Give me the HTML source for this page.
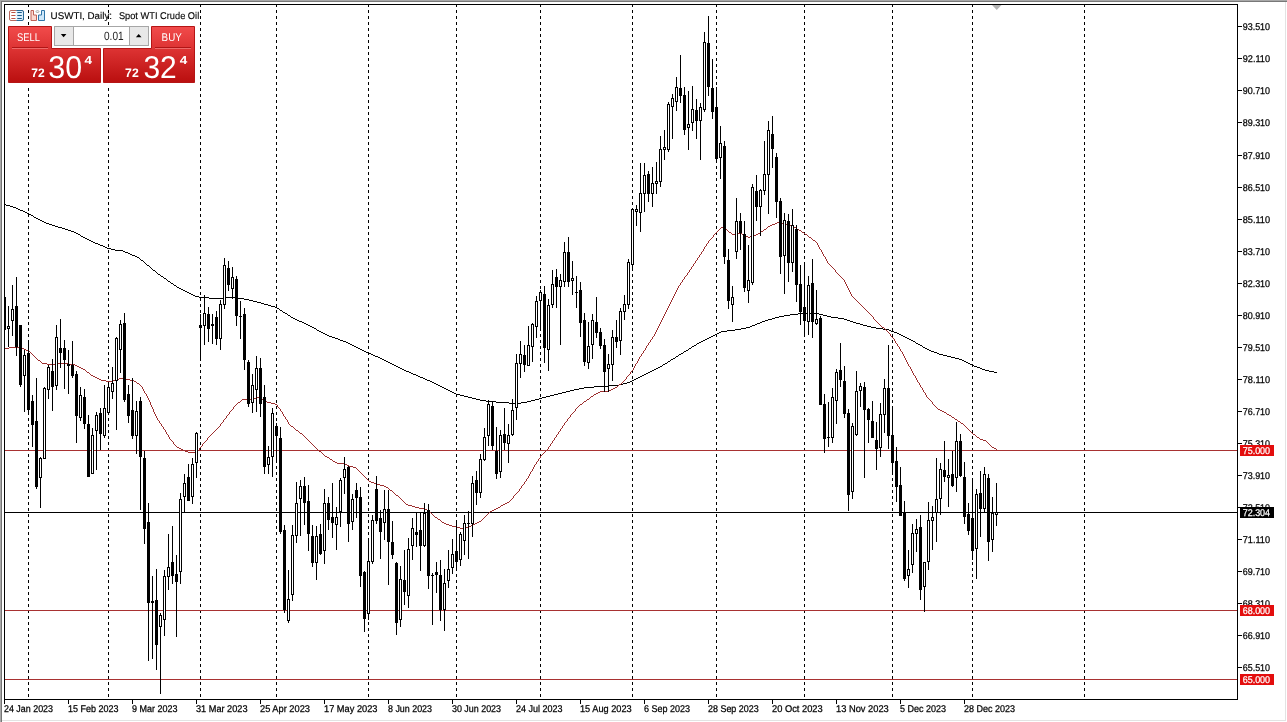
<!DOCTYPE html>
<html><head><meta charset="utf-8"><title>USWTI, Daily</title>
<style>
html,body{margin:0;padding:0;background:#fff;}
body{width:1287px;height:722px;overflow:hidden;}
svg{display:block;}
text{font-family:"Liberation Sans",sans-serif;text-rendering:geometricPrecision;}
.t text,text.t{stroke:#000;stroke-width:0.25px;}
text.tw{stroke:#fff;stroke-width:0.25px;}
text.t2{stroke:#000;stroke-width:0.12px;}
</style></head><body>
<svg width="1287" height="722" viewBox="0 0 1287 722">
<rect x="0" y="0" width="1287" height="722" fill="#ffffff"/>
<g shape-rendering="crispEdges">
<rect x="0" y="0" width="1287" height="1" fill="#a8a8a8"/>
<rect x="1" y="1" width="1287" height="1" fill="#787878"/>
<rect x="0" y="0" width="1" height="722" fill="#a8a8a8"/>
<rect x="1" y="1" width="1" height="722" fill="#747474"/>
<rect x="1285" y="2" width="1" height="719" fill="#e3e3e3"/>
<rect x="2" y="720" width="1284" height="1" fill="#e3e3e3"/>
</g>
<g shape-rendering="crispEdges" fill="#000">
<path d="M28 5h1v2h-1zM28 10h1v3h-1zM28 16h1v3h-1zM28 22h1v3h-1zM28 28h1v3h-1zM28 34h1v3h-1zM28 40h1v3h-1zM28 46h1v3h-1zM28 52h1v3h-1zM28 58h1v3h-1zM28 64h1v3h-1zM28 70h1v3h-1zM28 76h1v3h-1zM28 82h1v3h-1zM28 88h1v3h-1zM28 94h1v3h-1zM28 100h1v3h-1zM28 106h1v3h-1zM28 112h1v3h-1zM28 118h1v3h-1zM28 124h1v3h-1zM28 130h1v3h-1zM28 136h1v3h-1zM28 142h1v3h-1zM28 148h1v3h-1zM28 154h1v3h-1zM28 160h1v3h-1zM28 166h1v3h-1zM28 172h1v3h-1zM28 178h1v3h-1zM28 184h1v3h-1zM28 190h1v3h-1zM28 196h1v3h-1zM28 202h1v3h-1zM28 208h1v3h-1zM28 214h1v3h-1zM28 220h1v3h-1zM28 226h1v3h-1zM28 232h1v3h-1zM28 238h1v3h-1zM28 244h1v3h-1zM28 250h1v3h-1zM28 256h1v3h-1zM28 262h1v3h-1zM28 268h1v3h-1zM28 274h1v3h-1zM28 280h1v3h-1zM28 286h1v3h-1zM28 292h1v3h-1zM28 298h1v3h-1zM28 304h1v3h-1zM28 310h1v3h-1zM28 316h1v3h-1zM28 322h1v3h-1zM28 328h1v3h-1zM28 334h1v3h-1zM28 340h1v3h-1zM28 346h1v3h-1zM28 352h1v3h-1zM28 358h1v3h-1zM28 364h1v3h-1zM28 370h1v3h-1zM28 376h1v3h-1zM28 382h1v3h-1zM28 388h1v3h-1zM28 394h1v3h-1zM28 400h1v3h-1zM28 406h1v3h-1zM28 412h1v3h-1zM28 418h1v3h-1zM28 424h1v3h-1zM28 430h1v3h-1zM28 436h1v3h-1zM28 442h1v3h-1zM28 448h1v3h-1zM28 454h1v3h-1zM28 460h1v3h-1zM28 466h1v3h-1zM28 472h1v3h-1zM28 478h1v3h-1zM28 484h1v3h-1zM28 490h1v3h-1zM28 496h1v3h-1zM28 502h1v3h-1zM28 508h1v3h-1zM28 514h1v3h-1zM28 520h1v3h-1zM28 526h1v3h-1zM28 532h1v3h-1zM28 538h1v3h-1zM28 544h1v3h-1zM28 550h1v3h-1zM28 556h1v3h-1zM28 562h1v3h-1zM28 568h1v3h-1zM28 574h1v3h-1zM28 580h1v3h-1zM28 586h1v3h-1zM28 592h1v3h-1zM28 598h1v3h-1zM28 604h1v3h-1zM28 610h1v3h-1zM28 616h1v3h-1zM28 622h1v3h-1zM28 628h1v3h-1zM28 634h1v3h-1zM28 640h1v3h-1zM28 646h1v3h-1zM28 652h1v3h-1zM28 658h1v3h-1zM28 664h1v3h-1zM28 670h1v3h-1zM28 676h1v3h-1zM28 682h1v3h-1zM28 688h1v3h-1zM28 694h1v3h-1z"/>
<path d="M108 5h1v2h-1zM108 10h1v3h-1zM108 16h1v3h-1zM108 22h1v3h-1zM108 28h1v3h-1zM108 34h1v3h-1zM108 40h1v3h-1zM108 46h1v3h-1zM108 52h1v3h-1zM108 58h1v3h-1zM108 64h1v3h-1zM108 70h1v3h-1zM108 76h1v3h-1zM108 82h1v3h-1zM108 88h1v3h-1zM108 94h1v3h-1zM108 100h1v3h-1zM108 106h1v3h-1zM108 112h1v3h-1zM108 118h1v3h-1zM108 124h1v3h-1zM108 130h1v3h-1zM108 136h1v3h-1zM108 142h1v3h-1zM108 148h1v3h-1zM108 154h1v3h-1zM108 160h1v3h-1zM108 166h1v3h-1zM108 172h1v3h-1zM108 178h1v3h-1zM108 184h1v3h-1zM108 190h1v3h-1zM108 196h1v3h-1zM108 202h1v3h-1zM108 208h1v3h-1zM108 214h1v3h-1zM108 220h1v3h-1zM108 226h1v3h-1zM108 232h1v3h-1zM108 238h1v3h-1zM108 244h1v3h-1zM108 250h1v3h-1zM108 256h1v3h-1zM108 262h1v3h-1zM108 268h1v3h-1zM108 274h1v3h-1zM108 280h1v3h-1zM108 286h1v3h-1zM108 292h1v3h-1zM108 298h1v3h-1zM108 304h1v3h-1zM108 310h1v3h-1zM108 316h1v3h-1zM108 322h1v3h-1zM108 328h1v3h-1zM108 334h1v3h-1zM108 340h1v3h-1zM108 346h1v3h-1zM108 352h1v3h-1zM108 358h1v3h-1zM108 364h1v3h-1zM108 370h1v3h-1zM108 376h1v3h-1zM108 382h1v3h-1zM108 388h1v3h-1zM108 394h1v3h-1zM108 400h1v3h-1zM108 406h1v3h-1zM108 412h1v3h-1zM108 418h1v3h-1zM108 424h1v3h-1zM108 430h1v3h-1zM108 436h1v3h-1zM108 442h1v3h-1zM108 448h1v3h-1zM108 454h1v3h-1zM108 460h1v3h-1zM108 466h1v3h-1zM108 472h1v3h-1zM108 478h1v3h-1zM108 484h1v3h-1zM108 490h1v3h-1zM108 496h1v3h-1zM108 502h1v3h-1zM108 508h1v3h-1zM108 514h1v3h-1zM108 520h1v3h-1zM108 526h1v3h-1zM108 532h1v3h-1zM108 538h1v3h-1zM108 544h1v3h-1zM108 550h1v3h-1zM108 556h1v3h-1zM108 562h1v3h-1zM108 568h1v3h-1zM108 574h1v3h-1zM108 580h1v3h-1zM108 586h1v3h-1zM108 592h1v3h-1zM108 598h1v3h-1zM108 604h1v3h-1zM108 610h1v3h-1zM108 616h1v3h-1zM108 622h1v3h-1zM108 628h1v3h-1zM108 634h1v3h-1zM108 640h1v3h-1zM108 646h1v3h-1zM108 652h1v3h-1zM108 658h1v3h-1zM108 664h1v3h-1zM108 670h1v3h-1zM108 676h1v3h-1zM108 682h1v3h-1zM108 688h1v3h-1zM108 694h1v3h-1z"/>
<path d="M200 5h1v2h-1zM200 10h1v3h-1zM200 16h1v3h-1zM200 22h1v3h-1zM200 28h1v3h-1zM200 34h1v3h-1zM200 40h1v3h-1zM200 46h1v3h-1zM200 52h1v3h-1zM200 58h1v3h-1zM200 64h1v3h-1zM200 70h1v3h-1zM200 76h1v3h-1zM200 82h1v3h-1zM200 88h1v3h-1zM200 94h1v3h-1zM200 100h1v3h-1zM200 106h1v3h-1zM200 112h1v3h-1zM200 118h1v3h-1zM200 124h1v3h-1zM200 130h1v3h-1zM200 136h1v3h-1zM200 142h1v3h-1zM200 148h1v3h-1zM200 154h1v3h-1zM200 160h1v3h-1zM200 166h1v3h-1zM200 172h1v3h-1zM200 178h1v3h-1zM200 184h1v3h-1zM200 190h1v3h-1zM200 196h1v3h-1zM200 202h1v3h-1zM200 208h1v3h-1zM200 214h1v3h-1zM200 220h1v3h-1zM200 226h1v3h-1zM200 232h1v3h-1zM200 238h1v3h-1zM200 244h1v3h-1zM200 250h1v3h-1zM200 256h1v3h-1zM200 262h1v3h-1zM200 268h1v3h-1zM200 274h1v3h-1zM200 280h1v3h-1zM200 286h1v3h-1zM200 292h1v3h-1zM200 298h1v3h-1zM200 304h1v3h-1zM200 310h1v3h-1zM200 316h1v3h-1zM200 322h1v3h-1zM200 328h1v3h-1zM200 334h1v3h-1zM200 340h1v3h-1zM200 346h1v3h-1zM200 352h1v3h-1zM200 358h1v3h-1zM200 364h1v3h-1zM200 370h1v3h-1zM200 376h1v3h-1zM200 382h1v3h-1zM200 388h1v3h-1zM200 394h1v3h-1zM200 400h1v3h-1zM200 406h1v3h-1zM200 412h1v3h-1zM200 418h1v3h-1zM200 424h1v3h-1zM200 430h1v3h-1zM200 436h1v3h-1zM200 442h1v3h-1zM200 448h1v3h-1zM200 454h1v3h-1zM200 460h1v3h-1zM200 466h1v3h-1zM200 472h1v3h-1zM200 478h1v3h-1zM200 484h1v3h-1zM200 490h1v3h-1zM200 496h1v3h-1zM200 502h1v3h-1zM200 508h1v3h-1zM200 514h1v3h-1zM200 520h1v3h-1zM200 526h1v3h-1zM200 532h1v3h-1zM200 538h1v3h-1zM200 544h1v3h-1zM200 550h1v3h-1zM200 556h1v3h-1zM200 562h1v3h-1zM200 568h1v3h-1zM200 574h1v3h-1zM200 580h1v3h-1zM200 586h1v3h-1zM200 592h1v3h-1zM200 598h1v3h-1zM200 604h1v3h-1zM200 610h1v3h-1zM200 616h1v3h-1zM200 622h1v3h-1zM200 628h1v3h-1zM200 634h1v3h-1zM200 640h1v3h-1zM200 646h1v3h-1zM200 652h1v3h-1zM200 658h1v3h-1zM200 664h1v3h-1zM200 670h1v3h-1zM200 676h1v3h-1zM200 682h1v3h-1zM200 688h1v3h-1zM200 694h1v3h-1z"/>
<path d="M276 5h1v2h-1zM276 10h1v3h-1zM276 16h1v3h-1zM276 22h1v3h-1zM276 28h1v3h-1zM276 34h1v3h-1zM276 40h1v3h-1zM276 46h1v3h-1zM276 52h1v3h-1zM276 58h1v3h-1zM276 64h1v3h-1zM276 70h1v3h-1zM276 76h1v3h-1zM276 82h1v3h-1zM276 88h1v3h-1zM276 94h1v3h-1zM276 100h1v3h-1zM276 106h1v3h-1zM276 112h1v3h-1zM276 118h1v3h-1zM276 124h1v3h-1zM276 130h1v3h-1zM276 136h1v3h-1zM276 142h1v3h-1zM276 148h1v3h-1zM276 154h1v3h-1zM276 160h1v3h-1zM276 166h1v3h-1zM276 172h1v3h-1zM276 178h1v3h-1zM276 184h1v3h-1zM276 190h1v3h-1zM276 196h1v3h-1zM276 202h1v3h-1zM276 208h1v3h-1zM276 214h1v3h-1zM276 220h1v3h-1zM276 226h1v3h-1zM276 232h1v3h-1zM276 238h1v3h-1zM276 244h1v3h-1zM276 250h1v3h-1zM276 256h1v3h-1zM276 262h1v3h-1zM276 268h1v3h-1zM276 274h1v3h-1zM276 280h1v3h-1zM276 286h1v3h-1zM276 292h1v3h-1zM276 298h1v3h-1zM276 304h1v3h-1zM276 310h1v3h-1zM276 316h1v3h-1zM276 322h1v3h-1zM276 328h1v3h-1zM276 334h1v3h-1zM276 340h1v3h-1zM276 346h1v3h-1zM276 352h1v3h-1zM276 358h1v3h-1zM276 364h1v3h-1zM276 370h1v3h-1zM276 376h1v3h-1zM276 382h1v3h-1zM276 388h1v3h-1zM276 394h1v3h-1zM276 400h1v3h-1zM276 406h1v3h-1zM276 412h1v3h-1zM276 418h1v3h-1zM276 424h1v3h-1zM276 430h1v3h-1zM276 436h1v3h-1zM276 442h1v3h-1zM276 448h1v3h-1zM276 454h1v3h-1zM276 460h1v3h-1zM276 466h1v3h-1zM276 472h1v3h-1zM276 478h1v3h-1zM276 484h1v3h-1zM276 490h1v3h-1zM276 496h1v3h-1zM276 502h1v3h-1zM276 508h1v3h-1zM276 514h1v3h-1zM276 520h1v3h-1zM276 526h1v3h-1zM276 532h1v3h-1zM276 538h1v3h-1zM276 544h1v3h-1zM276 550h1v3h-1zM276 556h1v3h-1zM276 562h1v3h-1zM276 568h1v3h-1zM276 574h1v3h-1zM276 580h1v3h-1zM276 586h1v3h-1zM276 592h1v3h-1zM276 598h1v3h-1zM276 604h1v3h-1zM276 610h1v3h-1zM276 616h1v3h-1zM276 622h1v3h-1zM276 628h1v3h-1zM276 634h1v3h-1zM276 640h1v3h-1zM276 646h1v3h-1zM276 652h1v3h-1zM276 658h1v3h-1zM276 664h1v3h-1zM276 670h1v3h-1zM276 676h1v3h-1zM276 682h1v3h-1zM276 688h1v3h-1zM276 694h1v3h-1z"/>
<path d="M368 5h1v2h-1zM368 10h1v3h-1zM368 16h1v3h-1zM368 22h1v3h-1zM368 28h1v3h-1zM368 34h1v3h-1zM368 40h1v3h-1zM368 46h1v3h-1zM368 52h1v3h-1zM368 58h1v3h-1zM368 64h1v3h-1zM368 70h1v3h-1zM368 76h1v3h-1zM368 82h1v3h-1zM368 88h1v3h-1zM368 94h1v3h-1zM368 100h1v3h-1zM368 106h1v3h-1zM368 112h1v3h-1zM368 118h1v3h-1zM368 124h1v3h-1zM368 130h1v3h-1zM368 136h1v3h-1zM368 142h1v3h-1zM368 148h1v3h-1zM368 154h1v3h-1zM368 160h1v3h-1zM368 166h1v3h-1zM368 172h1v3h-1zM368 178h1v3h-1zM368 184h1v3h-1zM368 190h1v3h-1zM368 196h1v3h-1zM368 202h1v3h-1zM368 208h1v3h-1zM368 214h1v3h-1zM368 220h1v3h-1zM368 226h1v3h-1zM368 232h1v3h-1zM368 238h1v3h-1zM368 244h1v3h-1zM368 250h1v3h-1zM368 256h1v3h-1zM368 262h1v3h-1zM368 268h1v3h-1zM368 274h1v3h-1zM368 280h1v3h-1zM368 286h1v3h-1zM368 292h1v3h-1zM368 298h1v3h-1zM368 304h1v3h-1zM368 310h1v3h-1zM368 316h1v3h-1zM368 322h1v3h-1zM368 328h1v3h-1zM368 334h1v3h-1zM368 340h1v3h-1zM368 346h1v3h-1zM368 352h1v3h-1zM368 358h1v3h-1zM368 364h1v3h-1zM368 370h1v3h-1zM368 376h1v3h-1zM368 382h1v3h-1zM368 388h1v3h-1zM368 394h1v3h-1zM368 400h1v3h-1zM368 406h1v3h-1zM368 412h1v3h-1zM368 418h1v3h-1zM368 424h1v3h-1zM368 430h1v3h-1zM368 436h1v3h-1zM368 442h1v3h-1zM368 448h1v3h-1zM368 454h1v3h-1zM368 460h1v3h-1zM368 466h1v3h-1zM368 472h1v3h-1zM368 478h1v3h-1zM368 484h1v3h-1zM368 490h1v3h-1zM368 496h1v3h-1zM368 502h1v3h-1zM368 508h1v3h-1zM368 514h1v3h-1zM368 520h1v3h-1zM368 526h1v3h-1zM368 532h1v3h-1zM368 538h1v3h-1zM368 544h1v3h-1zM368 550h1v3h-1zM368 556h1v3h-1zM368 562h1v3h-1zM368 568h1v3h-1zM368 574h1v3h-1zM368 580h1v3h-1zM368 586h1v3h-1zM368 592h1v3h-1zM368 598h1v3h-1zM368 604h1v3h-1zM368 610h1v3h-1zM368 616h1v3h-1zM368 622h1v3h-1zM368 628h1v3h-1zM368 634h1v3h-1zM368 640h1v3h-1zM368 646h1v3h-1zM368 652h1v3h-1zM368 658h1v3h-1zM368 664h1v3h-1zM368 670h1v3h-1zM368 676h1v3h-1zM368 682h1v3h-1zM368 688h1v3h-1zM368 694h1v3h-1z"/>
<path d="M456 5h1v2h-1zM456 10h1v3h-1zM456 16h1v3h-1zM456 22h1v3h-1zM456 28h1v3h-1zM456 34h1v3h-1zM456 40h1v3h-1zM456 46h1v3h-1zM456 52h1v3h-1zM456 58h1v3h-1zM456 64h1v3h-1zM456 70h1v3h-1zM456 76h1v3h-1zM456 82h1v3h-1zM456 88h1v3h-1zM456 94h1v3h-1zM456 100h1v3h-1zM456 106h1v3h-1zM456 112h1v3h-1zM456 118h1v3h-1zM456 124h1v3h-1zM456 130h1v3h-1zM456 136h1v3h-1zM456 142h1v3h-1zM456 148h1v3h-1zM456 154h1v3h-1zM456 160h1v3h-1zM456 166h1v3h-1zM456 172h1v3h-1zM456 178h1v3h-1zM456 184h1v3h-1zM456 190h1v3h-1zM456 196h1v3h-1zM456 202h1v3h-1zM456 208h1v3h-1zM456 214h1v3h-1zM456 220h1v3h-1zM456 226h1v3h-1zM456 232h1v3h-1zM456 238h1v3h-1zM456 244h1v3h-1zM456 250h1v3h-1zM456 256h1v3h-1zM456 262h1v3h-1zM456 268h1v3h-1zM456 274h1v3h-1zM456 280h1v3h-1zM456 286h1v3h-1zM456 292h1v3h-1zM456 298h1v3h-1zM456 304h1v3h-1zM456 310h1v3h-1zM456 316h1v3h-1zM456 322h1v3h-1zM456 328h1v3h-1zM456 334h1v3h-1zM456 340h1v3h-1zM456 346h1v3h-1zM456 352h1v3h-1zM456 358h1v3h-1zM456 364h1v3h-1zM456 370h1v3h-1zM456 376h1v3h-1zM456 382h1v3h-1zM456 388h1v3h-1zM456 394h1v3h-1zM456 400h1v3h-1zM456 406h1v3h-1zM456 412h1v3h-1zM456 418h1v3h-1zM456 424h1v3h-1zM456 430h1v3h-1zM456 436h1v3h-1zM456 442h1v3h-1zM456 448h1v3h-1zM456 454h1v3h-1zM456 460h1v3h-1zM456 466h1v3h-1zM456 472h1v3h-1zM456 478h1v3h-1zM456 484h1v3h-1zM456 490h1v3h-1zM456 496h1v3h-1zM456 502h1v3h-1zM456 508h1v3h-1zM456 514h1v3h-1zM456 520h1v3h-1zM456 526h1v3h-1zM456 532h1v3h-1zM456 538h1v3h-1zM456 544h1v3h-1zM456 550h1v3h-1zM456 556h1v3h-1zM456 562h1v3h-1zM456 568h1v3h-1zM456 574h1v3h-1zM456 580h1v3h-1zM456 586h1v3h-1zM456 592h1v3h-1zM456 598h1v3h-1zM456 604h1v3h-1zM456 610h1v3h-1zM456 616h1v3h-1zM456 622h1v3h-1zM456 628h1v3h-1zM456 634h1v3h-1zM456 640h1v3h-1zM456 646h1v3h-1zM456 652h1v3h-1zM456 658h1v3h-1zM456 664h1v3h-1zM456 670h1v3h-1zM456 676h1v3h-1zM456 682h1v3h-1zM456 688h1v3h-1zM456 694h1v3h-1z"/>
<path d="M540 5h1v2h-1zM540 10h1v3h-1zM540 16h1v3h-1zM540 22h1v3h-1zM540 28h1v3h-1zM540 34h1v3h-1zM540 40h1v3h-1zM540 46h1v3h-1zM540 52h1v3h-1zM540 58h1v3h-1zM540 64h1v3h-1zM540 70h1v3h-1zM540 76h1v3h-1zM540 82h1v3h-1zM540 88h1v3h-1zM540 94h1v3h-1zM540 100h1v3h-1zM540 106h1v3h-1zM540 112h1v3h-1zM540 118h1v3h-1zM540 124h1v3h-1zM540 130h1v3h-1zM540 136h1v3h-1zM540 142h1v3h-1zM540 148h1v3h-1zM540 154h1v3h-1zM540 160h1v3h-1zM540 166h1v3h-1zM540 172h1v3h-1zM540 178h1v3h-1zM540 184h1v3h-1zM540 190h1v3h-1zM540 196h1v3h-1zM540 202h1v3h-1zM540 208h1v3h-1zM540 214h1v3h-1zM540 220h1v3h-1zM540 226h1v3h-1zM540 232h1v3h-1zM540 238h1v3h-1zM540 244h1v3h-1zM540 250h1v3h-1zM540 256h1v3h-1zM540 262h1v3h-1zM540 268h1v3h-1zM540 274h1v3h-1zM540 280h1v3h-1zM540 286h1v3h-1zM540 292h1v3h-1zM540 298h1v3h-1zM540 304h1v3h-1zM540 310h1v3h-1zM540 316h1v3h-1zM540 322h1v3h-1zM540 328h1v3h-1zM540 334h1v3h-1zM540 340h1v3h-1zM540 346h1v3h-1zM540 352h1v3h-1zM540 358h1v3h-1zM540 364h1v3h-1zM540 370h1v3h-1zM540 376h1v3h-1zM540 382h1v3h-1zM540 388h1v3h-1zM540 394h1v3h-1zM540 400h1v3h-1zM540 406h1v3h-1zM540 412h1v3h-1zM540 418h1v3h-1zM540 424h1v3h-1zM540 430h1v3h-1zM540 436h1v3h-1zM540 442h1v3h-1zM540 448h1v3h-1zM540 454h1v3h-1zM540 460h1v3h-1zM540 466h1v3h-1zM540 472h1v3h-1zM540 478h1v3h-1zM540 484h1v3h-1zM540 490h1v3h-1zM540 496h1v3h-1zM540 502h1v3h-1zM540 508h1v3h-1zM540 514h1v3h-1zM540 520h1v3h-1zM540 526h1v3h-1zM540 532h1v3h-1zM540 538h1v3h-1zM540 544h1v3h-1zM540 550h1v3h-1zM540 556h1v3h-1zM540 562h1v3h-1zM540 568h1v3h-1zM540 574h1v3h-1zM540 580h1v3h-1zM540 586h1v3h-1zM540 592h1v3h-1zM540 598h1v3h-1zM540 604h1v3h-1zM540 610h1v3h-1zM540 616h1v3h-1zM540 622h1v3h-1zM540 628h1v3h-1zM540 634h1v3h-1zM540 640h1v3h-1zM540 646h1v3h-1zM540 652h1v3h-1zM540 658h1v3h-1zM540 664h1v3h-1zM540 670h1v3h-1zM540 676h1v3h-1zM540 682h1v3h-1zM540 688h1v3h-1zM540 694h1v3h-1z"/>
<path d="M632 5h1v2h-1zM632 10h1v3h-1zM632 16h1v3h-1zM632 22h1v3h-1zM632 28h1v3h-1zM632 34h1v3h-1zM632 40h1v3h-1zM632 46h1v3h-1zM632 52h1v3h-1zM632 58h1v3h-1zM632 64h1v3h-1zM632 70h1v3h-1zM632 76h1v3h-1zM632 82h1v3h-1zM632 88h1v3h-1zM632 94h1v3h-1zM632 100h1v3h-1zM632 106h1v3h-1zM632 112h1v3h-1zM632 118h1v3h-1zM632 124h1v3h-1zM632 130h1v3h-1zM632 136h1v3h-1zM632 142h1v3h-1zM632 148h1v3h-1zM632 154h1v3h-1zM632 160h1v3h-1zM632 166h1v3h-1zM632 172h1v3h-1zM632 178h1v3h-1zM632 184h1v3h-1zM632 190h1v3h-1zM632 196h1v3h-1zM632 202h1v3h-1zM632 208h1v3h-1zM632 214h1v3h-1zM632 220h1v3h-1zM632 226h1v3h-1zM632 232h1v3h-1zM632 238h1v3h-1zM632 244h1v3h-1zM632 250h1v3h-1zM632 256h1v3h-1zM632 262h1v3h-1zM632 268h1v3h-1zM632 274h1v3h-1zM632 280h1v3h-1zM632 286h1v3h-1zM632 292h1v3h-1zM632 298h1v3h-1zM632 304h1v3h-1zM632 310h1v3h-1zM632 316h1v3h-1zM632 322h1v3h-1zM632 328h1v3h-1zM632 334h1v3h-1zM632 340h1v3h-1zM632 346h1v3h-1zM632 352h1v3h-1zM632 358h1v3h-1zM632 364h1v3h-1zM632 370h1v3h-1zM632 376h1v3h-1zM632 382h1v3h-1zM632 388h1v3h-1zM632 394h1v3h-1zM632 400h1v3h-1zM632 406h1v3h-1zM632 412h1v3h-1zM632 418h1v3h-1zM632 424h1v3h-1zM632 430h1v3h-1zM632 436h1v3h-1zM632 442h1v3h-1zM632 448h1v3h-1zM632 454h1v3h-1zM632 460h1v3h-1zM632 466h1v3h-1zM632 472h1v3h-1zM632 478h1v3h-1zM632 484h1v3h-1zM632 490h1v3h-1zM632 496h1v3h-1zM632 502h1v3h-1zM632 508h1v3h-1zM632 514h1v3h-1zM632 520h1v3h-1zM632 526h1v3h-1zM632 532h1v3h-1zM632 538h1v3h-1zM632 544h1v3h-1zM632 550h1v3h-1zM632 556h1v3h-1zM632 562h1v3h-1zM632 568h1v3h-1zM632 574h1v3h-1zM632 580h1v3h-1zM632 586h1v3h-1zM632 592h1v3h-1zM632 598h1v3h-1zM632 604h1v3h-1zM632 610h1v3h-1zM632 616h1v3h-1zM632 622h1v3h-1zM632 628h1v3h-1zM632 634h1v3h-1zM632 640h1v3h-1zM632 646h1v3h-1zM632 652h1v3h-1zM632 658h1v3h-1zM632 664h1v3h-1zM632 670h1v3h-1zM632 676h1v3h-1zM632 682h1v3h-1zM632 688h1v3h-1zM632 694h1v3h-1z"/>
<path d="M716 5h1v2h-1zM716 10h1v3h-1zM716 16h1v3h-1zM716 22h1v3h-1zM716 28h1v3h-1zM716 34h1v3h-1zM716 40h1v3h-1zM716 46h1v3h-1zM716 52h1v3h-1zM716 58h1v3h-1zM716 64h1v3h-1zM716 70h1v3h-1zM716 76h1v3h-1zM716 82h1v3h-1zM716 88h1v3h-1zM716 94h1v3h-1zM716 100h1v3h-1zM716 106h1v3h-1zM716 112h1v3h-1zM716 118h1v3h-1zM716 124h1v3h-1zM716 130h1v3h-1zM716 136h1v3h-1zM716 142h1v3h-1zM716 148h1v3h-1zM716 154h1v3h-1zM716 160h1v3h-1zM716 166h1v3h-1zM716 172h1v3h-1zM716 178h1v3h-1zM716 184h1v3h-1zM716 190h1v3h-1zM716 196h1v3h-1zM716 202h1v3h-1zM716 208h1v3h-1zM716 214h1v3h-1zM716 220h1v3h-1zM716 226h1v3h-1zM716 232h1v3h-1zM716 238h1v3h-1zM716 244h1v3h-1zM716 250h1v3h-1zM716 256h1v3h-1zM716 262h1v3h-1zM716 268h1v3h-1zM716 274h1v3h-1zM716 280h1v3h-1zM716 286h1v3h-1zM716 292h1v3h-1zM716 298h1v3h-1zM716 304h1v3h-1zM716 310h1v3h-1zM716 316h1v3h-1zM716 322h1v3h-1zM716 328h1v3h-1zM716 334h1v3h-1zM716 340h1v3h-1zM716 346h1v3h-1zM716 352h1v3h-1zM716 358h1v3h-1zM716 364h1v3h-1zM716 370h1v3h-1zM716 376h1v3h-1zM716 382h1v3h-1zM716 388h1v3h-1zM716 394h1v3h-1zM716 400h1v3h-1zM716 406h1v3h-1zM716 412h1v3h-1zM716 418h1v3h-1zM716 424h1v3h-1zM716 430h1v3h-1zM716 436h1v3h-1zM716 442h1v3h-1zM716 448h1v3h-1zM716 454h1v3h-1zM716 460h1v3h-1zM716 466h1v3h-1zM716 472h1v3h-1zM716 478h1v3h-1zM716 484h1v3h-1zM716 490h1v3h-1zM716 496h1v3h-1zM716 502h1v3h-1zM716 508h1v3h-1zM716 514h1v3h-1zM716 520h1v3h-1zM716 526h1v3h-1zM716 532h1v3h-1zM716 538h1v3h-1zM716 544h1v3h-1zM716 550h1v3h-1zM716 556h1v3h-1zM716 562h1v3h-1zM716 568h1v3h-1zM716 574h1v3h-1zM716 580h1v3h-1zM716 586h1v3h-1zM716 592h1v3h-1zM716 598h1v3h-1zM716 604h1v3h-1zM716 610h1v3h-1zM716 616h1v3h-1zM716 622h1v3h-1zM716 628h1v3h-1zM716 634h1v3h-1zM716 640h1v3h-1zM716 646h1v3h-1zM716 652h1v3h-1zM716 658h1v3h-1zM716 664h1v3h-1zM716 670h1v3h-1zM716 676h1v3h-1zM716 682h1v3h-1zM716 688h1v3h-1zM716 694h1v3h-1z"/>
<path d="M804 5h1v2h-1zM804 10h1v3h-1zM804 16h1v3h-1zM804 22h1v3h-1zM804 28h1v3h-1zM804 34h1v3h-1zM804 40h1v3h-1zM804 46h1v3h-1zM804 52h1v3h-1zM804 58h1v3h-1zM804 64h1v3h-1zM804 70h1v3h-1zM804 76h1v3h-1zM804 82h1v3h-1zM804 88h1v3h-1zM804 94h1v3h-1zM804 100h1v3h-1zM804 106h1v3h-1zM804 112h1v3h-1zM804 118h1v3h-1zM804 124h1v3h-1zM804 130h1v3h-1zM804 136h1v3h-1zM804 142h1v3h-1zM804 148h1v3h-1zM804 154h1v3h-1zM804 160h1v3h-1zM804 166h1v3h-1zM804 172h1v3h-1zM804 178h1v3h-1zM804 184h1v3h-1zM804 190h1v3h-1zM804 196h1v3h-1zM804 202h1v3h-1zM804 208h1v3h-1zM804 214h1v3h-1zM804 220h1v3h-1zM804 226h1v3h-1zM804 232h1v3h-1zM804 238h1v3h-1zM804 244h1v3h-1zM804 250h1v3h-1zM804 256h1v3h-1zM804 262h1v3h-1zM804 268h1v3h-1zM804 274h1v3h-1zM804 280h1v3h-1zM804 286h1v3h-1zM804 292h1v3h-1zM804 298h1v3h-1zM804 304h1v3h-1zM804 310h1v3h-1zM804 316h1v3h-1zM804 322h1v3h-1zM804 328h1v3h-1zM804 334h1v3h-1zM804 340h1v3h-1zM804 346h1v3h-1zM804 352h1v3h-1zM804 358h1v3h-1zM804 364h1v3h-1zM804 370h1v3h-1zM804 376h1v3h-1zM804 382h1v3h-1zM804 388h1v3h-1zM804 394h1v3h-1zM804 400h1v3h-1zM804 406h1v3h-1zM804 412h1v3h-1zM804 418h1v3h-1zM804 424h1v3h-1zM804 430h1v3h-1zM804 436h1v3h-1zM804 442h1v3h-1zM804 448h1v3h-1zM804 454h1v3h-1zM804 460h1v3h-1zM804 466h1v3h-1zM804 472h1v3h-1zM804 478h1v3h-1zM804 484h1v3h-1zM804 490h1v3h-1zM804 496h1v3h-1zM804 502h1v3h-1zM804 508h1v3h-1zM804 514h1v3h-1zM804 520h1v3h-1zM804 526h1v3h-1zM804 532h1v3h-1zM804 538h1v3h-1zM804 544h1v3h-1zM804 550h1v3h-1zM804 556h1v3h-1zM804 562h1v3h-1zM804 568h1v3h-1zM804 574h1v3h-1zM804 580h1v3h-1zM804 586h1v3h-1zM804 592h1v3h-1zM804 598h1v3h-1zM804 604h1v3h-1zM804 610h1v3h-1zM804 616h1v3h-1zM804 622h1v3h-1zM804 628h1v3h-1zM804 634h1v3h-1zM804 640h1v3h-1zM804 646h1v3h-1zM804 652h1v3h-1zM804 658h1v3h-1zM804 664h1v3h-1zM804 670h1v3h-1zM804 676h1v3h-1zM804 682h1v3h-1zM804 688h1v3h-1zM804 694h1v3h-1z"/>
<path d="M892 5h1v2h-1zM892 10h1v3h-1zM892 16h1v3h-1zM892 22h1v3h-1zM892 28h1v3h-1zM892 34h1v3h-1zM892 40h1v3h-1zM892 46h1v3h-1zM892 52h1v3h-1zM892 58h1v3h-1zM892 64h1v3h-1zM892 70h1v3h-1zM892 76h1v3h-1zM892 82h1v3h-1zM892 88h1v3h-1zM892 94h1v3h-1zM892 100h1v3h-1zM892 106h1v3h-1zM892 112h1v3h-1zM892 118h1v3h-1zM892 124h1v3h-1zM892 130h1v3h-1zM892 136h1v3h-1zM892 142h1v3h-1zM892 148h1v3h-1zM892 154h1v3h-1zM892 160h1v3h-1zM892 166h1v3h-1zM892 172h1v3h-1zM892 178h1v3h-1zM892 184h1v3h-1zM892 190h1v3h-1zM892 196h1v3h-1zM892 202h1v3h-1zM892 208h1v3h-1zM892 214h1v3h-1zM892 220h1v3h-1zM892 226h1v3h-1zM892 232h1v3h-1zM892 238h1v3h-1zM892 244h1v3h-1zM892 250h1v3h-1zM892 256h1v3h-1zM892 262h1v3h-1zM892 268h1v3h-1zM892 274h1v3h-1zM892 280h1v3h-1zM892 286h1v3h-1zM892 292h1v3h-1zM892 298h1v3h-1zM892 304h1v3h-1zM892 310h1v3h-1zM892 316h1v3h-1zM892 322h1v3h-1zM892 328h1v3h-1zM892 334h1v3h-1zM892 340h1v3h-1zM892 346h1v3h-1zM892 352h1v3h-1zM892 358h1v3h-1zM892 364h1v3h-1zM892 370h1v3h-1zM892 376h1v3h-1zM892 382h1v3h-1zM892 388h1v3h-1zM892 394h1v3h-1zM892 400h1v3h-1zM892 406h1v3h-1zM892 412h1v3h-1zM892 418h1v3h-1zM892 424h1v3h-1zM892 430h1v3h-1zM892 436h1v3h-1zM892 442h1v3h-1zM892 448h1v3h-1zM892 454h1v3h-1zM892 460h1v3h-1zM892 466h1v3h-1zM892 472h1v3h-1zM892 478h1v3h-1zM892 484h1v3h-1zM892 490h1v3h-1zM892 496h1v3h-1zM892 502h1v3h-1zM892 508h1v3h-1zM892 514h1v3h-1zM892 520h1v3h-1zM892 526h1v3h-1zM892 532h1v3h-1zM892 538h1v3h-1zM892 544h1v3h-1zM892 550h1v3h-1zM892 556h1v3h-1zM892 562h1v3h-1zM892 568h1v3h-1zM892 574h1v3h-1zM892 580h1v3h-1zM892 586h1v3h-1zM892 592h1v3h-1zM892 598h1v3h-1zM892 604h1v3h-1zM892 610h1v3h-1zM892 616h1v3h-1zM892 622h1v3h-1zM892 628h1v3h-1zM892 634h1v3h-1zM892 640h1v3h-1zM892 646h1v3h-1zM892 652h1v3h-1zM892 658h1v3h-1zM892 664h1v3h-1zM892 670h1v3h-1zM892 676h1v3h-1zM892 682h1v3h-1zM892 688h1v3h-1zM892 694h1v3h-1z"/>
<path d="M972 5h1v2h-1zM972 10h1v3h-1zM972 16h1v3h-1zM972 22h1v3h-1zM972 28h1v3h-1zM972 34h1v3h-1zM972 40h1v3h-1zM972 46h1v3h-1zM972 52h1v3h-1zM972 58h1v3h-1zM972 64h1v3h-1zM972 70h1v3h-1zM972 76h1v3h-1zM972 82h1v3h-1zM972 88h1v3h-1zM972 94h1v3h-1zM972 100h1v3h-1zM972 106h1v3h-1zM972 112h1v3h-1zM972 118h1v3h-1zM972 124h1v3h-1zM972 130h1v3h-1zM972 136h1v3h-1zM972 142h1v3h-1zM972 148h1v3h-1zM972 154h1v3h-1zM972 160h1v3h-1zM972 166h1v3h-1zM972 172h1v3h-1zM972 178h1v3h-1zM972 184h1v3h-1zM972 190h1v3h-1zM972 196h1v3h-1zM972 202h1v3h-1zM972 208h1v3h-1zM972 214h1v3h-1zM972 220h1v3h-1zM972 226h1v3h-1zM972 232h1v3h-1zM972 238h1v3h-1zM972 244h1v3h-1zM972 250h1v3h-1zM972 256h1v3h-1zM972 262h1v3h-1zM972 268h1v3h-1zM972 274h1v3h-1zM972 280h1v3h-1zM972 286h1v3h-1zM972 292h1v3h-1zM972 298h1v3h-1zM972 304h1v3h-1zM972 310h1v3h-1zM972 316h1v3h-1zM972 322h1v3h-1zM972 328h1v3h-1zM972 334h1v3h-1zM972 340h1v3h-1zM972 346h1v3h-1zM972 352h1v3h-1zM972 358h1v3h-1zM972 364h1v3h-1zM972 370h1v3h-1zM972 376h1v3h-1zM972 382h1v3h-1zM972 388h1v3h-1zM972 394h1v3h-1zM972 400h1v3h-1zM972 406h1v3h-1zM972 412h1v3h-1zM972 418h1v3h-1zM972 424h1v3h-1zM972 430h1v3h-1zM972 436h1v3h-1zM972 442h1v3h-1zM972 448h1v3h-1zM972 454h1v3h-1zM972 460h1v3h-1zM972 466h1v3h-1zM972 472h1v3h-1zM972 478h1v3h-1zM972 484h1v3h-1zM972 490h1v3h-1zM972 496h1v3h-1zM972 502h1v3h-1zM972 508h1v3h-1zM972 514h1v3h-1zM972 520h1v3h-1zM972 526h1v3h-1zM972 532h1v3h-1zM972 538h1v3h-1zM972 544h1v3h-1zM972 550h1v3h-1zM972 556h1v3h-1zM972 562h1v3h-1zM972 568h1v3h-1zM972 574h1v3h-1zM972 580h1v3h-1zM972 586h1v3h-1zM972 592h1v3h-1zM972 598h1v3h-1zM972 604h1v3h-1zM972 610h1v3h-1zM972 616h1v3h-1zM972 622h1v3h-1zM972 628h1v3h-1zM972 634h1v3h-1zM972 640h1v3h-1zM972 646h1v3h-1zM972 652h1v3h-1zM972 658h1v3h-1zM972 664h1v3h-1zM972 670h1v3h-1zM972 676h1v3h-1zM972 682h1v3h-1zM972 688h1v3h-1zM972 694h1v3h-1z"/>
<path d="M1084 5h1v2h-1zM1084 10h1v3h-1zM1084 16h1v3h-1zM1084 22h1v3h-1zM1084 28h1v3h-1zM1084 34h1v3h-1zM1084 40h1v3h-1zM1084 46h1v3h-1zM1084 52h1v3h-1zM1084 58h1v3h-1zM1084 64h1v3h-1zM1084 70h1v3h-1zM1084 76h1v3h-1zM1084 82h1v3h-1zM1084 88h1v3h-1zM1084 94h1v3h-1zM1084 100h1v3h-1zM1084 106h1v3h-1zM1084 112h1v3h-1zM1084 118h1v3h-1zM1084 124h1v3h-1zM1084 130h1v3h-1zM1084 136h1v3h-1zM1084 142h1v3h-1zM1084 148h1v3h-1zM1084 154h1v3h-1zM1084 160h1v3h-1zM1084 166h1v3h-1zM1084 172h1v3h-1zM1084 178h1v3h-1zM1084 184h1v3h-1zM1084 190h1v3h-1zM1084 196h1v3h-1zM1084 202h1v3h-1zM1084 208h1v3h-1zM1084 214h1v3h-1zM1084 220h1v3h-1zM1084 226h1v3h-1zM1084 232h1v3h-1zM1084 238h1v3h-1zM1084 244h1v3h-1zM1084 250h1v3h-1zM1084 256h1v3h-1zM1084 262h1v3h-1zM1084 268h1v3h-1zM1084 274h1v3h-1zM1084 280h1v3h-1zM1084 286h1v3h-1zM1084 292h1v3h-1zM1084 298h1v3h-1zM1084 304h1v3h-1zM1084 310h1v3h-1zM1084 316h1v3h-1zM1084 322h1v3h-1zM1084 328h1v3h-1zM1084 334h1v3h-1zM1084 340h1v3h-1zM1084 346h1v3h-1zM1084 352h1v3h-1zM1084 358h1v3h-1zM1084 364h1v3h-1zM1084 370h1v3h-1zM1084 376h1v3h-1zM1084 382h1v3h-1zM1084 388h1v3h-1zM1084 394h1v3h-1zM1084 400h1v3h-1zM1084 406h1v3h-1zM1084 412h1v3h-1zM1084 418h1v3h-1zM1084 424h1v3h-1zM1084 430h1v3h-1zM1084 436h1v3h-1zM1084 442h1v3h-1zM1084 448h1v3h-1zM1084 454h1v3h-1zM1084 460h1v3h-1zM1084 466h1v3h-1zM1084 472h1v3h-1zM1084 478h1v3h-1zM1084 484h1v3h-1zM1084 490h1v3h-1zM1084 496h1v3h-1zM1084 502h1v3h-1zM1084 508h1v3h-1zM1084 514h1v3h-1zM1084 520h1v3h-1zM1084 526h1v3h-1zM1084 532h1v3h-1zM1084 538h1v3h-1zM1084 544h1v3h-1zM1084 550h1v3h-1zM1084 556h1v3h-1zM1084 562h1v3h-1zM1084 568h1v3h-1zM1084 574h1v3h-1zM1084 580h1v3h-1zM1084 586h1v3h-1zM1084 592h1v3h-1zM1084 598h1v3h-1zM1084 604h1v3h-1zM1084 610h1v3h-1zM1084 616h1v3h-1zM1084 622h1v3h-1zM1084 628h1v3h-1zM1084 634h1v3h-1zM1084 640h1v3h-1zM1084 646h1v3h-1zM1084 652h1v3h-1zM1084 658h1v3h-1zM1084 664h1v3h-1zM1084 670h1v3h-1zM1084 676h1v3h-1zM1084 682h1v3h-1zM1084 688h1v3h-1zM1084 694h1v3h-1z"/>
</g>
<g shape-rendering="crispEdges">
<rect x="5" y="450" width="1232" height="1" fill="#a83232"/>
<rect x="5" y="610" width="1232" height="1" fill="#a83232"/>
<rect x="5" y="679" width="1232" height="1" fill="#a83232"/>
<rect x="5" y="512" width="1232" height="1" fill="#000"/>
</g>
<path fill="#000" shape-rendering="crispEdges" d="M68 230h3v1h-3zM735 329h6v1h-6zM883 329h6v1h-6zM100 245h3v1h-3zM440 386h2v1h-2zM594 386h15v1h-15zM91 241h2v1h-2zM244 299h5v1h-5zM285 313h2v1h-2zM798 313h21v1h-21zM446 389h2v1h-2zM574 389h5v1h-5zM416 375h2v1h-2zM642 375h2v1h-2zM310 326h2v1h-2zM750 326h2v1h-2zM867 326h4v1h-4zM464 396h4v1h-4zM546 396h4v1h-4zM306 324h2v1h-2zM755 324h2v1h-2zM860 324h3v1h-3zM291 317h2v1h-2zM775 317h4v1h-4zM831 317h7v1h-7zM115 250h8v1h-8zM103 246h2v1h-2zM496 402h13v1h-13zM521 402h6v1h-6zM335 338h3v1h-3zM707 338h2v1h-2zM907 338h2v1h-2zM249 300h4v1h-4zM137 257h2v1h-2zM486 401h10v1h-10zM527 401h4v1h-4zM509 403h12v1h-12zM95 243h3v1h-3zM406 371h3v1h-3zM650 371h2v1h-2zM989 371h5v1h-5zM87 239h2v1h-2zM411 373h2v1h-2zM646 373h2v1h-2zM4 204h2v1h-2zM295 319h2v1h-2zM768 319h4v1h-4zM844 319h3v1h-3zM452 392h2v1h-2zM562 392h4v1h-4zM378 357h2v1h-2zM951 357h4v1h-4zM438 385h2v1h-2zM609 385h10v1h-10zM368 353h3v1h-3zM681 353h2v1h-2zM937 353h2v1h-2zM6 205h4v1h-4zM199 297h10v1h-10zM224 297h12v1h-12zM297 320h2v1h-2zM765 320h3v1h-3zM847 320h3v1h-3zM308 325h2v1h-2zM752 325h3v1h-3zM863 325h4v1h-4zM132 255h3v1h-3zM404 370h2v1h-2zM652 370h2v1h-2zM985 370h4v1h-4zM71 231h3v1h-3zM460 395h4v1h-4zM550 395h4v1h-4zM83 237h2v1h-2zM280 310h2v1h-2zM448 390h2v1h-2zM570 390h4v1h-4zM790 314h8v1h-8zM819 314h4v1h-4zM271 306h4v1h-4zM442 387h2v1h-2zM584 387h10v1h-10zM147 265h2v1h-2zM434 383h2v1h-2zM623 383h4v1h-4zM390 363h2v1h-2zM665 363h2v1h-2zM968 363h2v1h-2zM253 301h4v1h-4zM128 253h2v1h-2zM275 307h2v1h-2zM76 233h2v1h-2zM420 377h3v1h-3zM638 377h2v1h-2zM314 328h2v1h-2zM741 328h5v1h-5zM876 328h7v1h-7zM42 221h2v1h-2zM293 318h2v1h-2zM772 318h3v1h-3zM838 318h6v1h-6zM107 248h4v1h-4zM340 340h3v1h-3zM703 340h2v1h-2zM911 340h2v1h-2zM480 400h6v1h-6zM531 400h4v1h-4zM454 393h2v1h-2zM558 393h4v1h-4zM472 398h4v1h-4zM539 398h3v1h-3zM425 379h2v1h-2zM634 379h2v1h-2zM317 330h2v1h-2zM727 330h8v1h-8zM889 330h2v1h-2zM288 315h2v1h-2zM784 315h6v1h-6zM823 315h4v1h-4zM360 349h2v1h-2zM927 349h2v1h-2zM209 298h15v1h-15zM236 298h8v1h-8zM34 217h2v1h-2zM364 351h2v1h-2zM684 351h2v1h-2zM931 351h3v1h-3zM46 223h3v1h-3zM356 347h2v1h-2zM923 347h2v1h-2zM38 219h2v1h-2zM319 331h2v1h-2zM721 331h6v1h-6zM891 331h3v1h-3zM312 327h2v1h-2zM746 327h4v1h-4zM871 327h5v1h-5zM111 249h4v1h-4zM409 372h2v1h-2zM648 372h2v1h-2zM994 372h3v1h-3zM304 323h2v1h-2zM757 323h3v1h-3zM856 323h4v1h-4zM29 214h2v1h-2zM468 397h4v1h-4zM542 397h4v1h-4zM348 343h2v1h-2zM697 343h2v1h-2zM916 343h2v1h-2zM31 215h2v1h-2zM402 369h2v1h-2zM654 369h2v1h-2zM982 369h3v1h-3zM23 211h2v1h-2zM329 336h3v1h-3zM711 336h2v1h-2zM903 336h2v1h-2zM185 291h2v1h-2zM158 274h2v1h-2zM321 332h2v1h-2zM719 332h2v1h-2zM894 332h3v1h-3zM177 287h2v1h-2zM55 226h3v1h-3zM16 208h2v1h-2zM323 333h2v1h-2zM717 333h2v1h-2zM897 333h2v1h-2zM394 365h2v1h-2zM972 365h2v1h-2zM346 342h2v1h-2zM699 342h2v1h-2zM779 316h5v1h-5zM827 316h4v1h-4zM352 345h2v1h-2zM694 345h2v1h-2zM920 345h2v1h-2zM27 213h2v1h-2zM398 367h2v1h-2zM658 367h2v1h-2zM977 367h3v1h-3zM18 209h2v1h-2zM49 224h3v1h-3zM366 352h2v1h-2zM934 352h3v1h-3zM161 276h2v1h-2zM430 381h2v1h-2zM630 381h2v1h-2zM181 289h2v1h-2zM350 344h2v1h-2zM918 344h2v1h-2zM20 210h3v1h-3zM10 206h3v1h-3zM327 335h2v1h-2zM713 335h2v1h-2zM901 335h2v1h-2zM52 225h3v1h-3zM400 368h2v1h-2zM656 368h2v1h-2zM980 368h2v1h-2zM380 358h2v1h-2zM673 358h2v1h-2zM955 358h4v1h-4zM371 354h2v1h-2zM679 354h2v1h-2zM939 354h4v1h-4zM413 374h3v1h-3zM644 374h2v1h-2zM13 207h3v1h-3zM476 399h4v1h-4zM535 399h4v1h-4zM338 339h2v1h-2zM705 339h2v1h-2zM909 339h2v1h-2zM191 294h2v1h-2zM183 290h2v1h-2zM418 376h2v1h-2zM640 376h2v1h-2zM299 321h3v1h-3zM762 321h3v1h-3zM850 321h3v1h-3zM396 366h2v1h-2zM660 366h2v1h-2zM974 366h3v1h-3zM382 359h2v1h-2zM671 359h2v1h-2zM959 359h3v1h-3zM332 337h3v1h-3zM709 337h2v1h-2zM905 337h2v1h-2zM187 292h2v1h-2zM179 288h2v1h-2zM436 384h2v1h-2zM619 384h4v1h-4zM427 380h3v1h-3zM632 380h2v1h-2zM153 270h2v1h-2zM171 283h2v1h-2zM386 361h2v1h-2zM668 361h2v1h-2zM964 361h2v1h-2zM373 355h2v1h-2zM943 355h4v1h-4zM58 227h4v1h-4zM257 302h4v1h-4zM444 388h2v1h-2zM579 388h5v1h-5zM432 382h2v1h-2zM627 382h3v1h-3zM423 378h2v1h-2zM636 378h2v1h-2zM168 281h2v1h-2zM343 341h3v1h-3zM701 341h2v1h-2zM913 341h2v1h-2zM325 334h2v1h-2zM715 334h2v1h-2zM899 334h2v1h-2zM456 394h4v1h-4zM554 394h4v1h-4zM62 228h3v1h-3zM123 251h2v1h-2zM450 391h2v1h-2zM566 391h4v1h-4zM302 322h2v1h-2zM760 322h2v1h-2zM853 322h3v1h-3zM392 364h2v1h-2zM663 364h2v1h-2zM970 364h2v1h-2zM375 356h3v1h-3zM676 356h2v1h-2zM947 356h4v1h-4zM261 303h3v1h-3zM141 260h2v1h-2zM358 348h2v1h-2zM689 348h2v1h-2zM925 348h2v1h-2zM89 240h2v1h-2zM81 236h2v1h-2zM264 304h4v1h-4zM362 350h2v1h-2zM686 350h2v1h-2zM929 350h2v1h-2zM135 256h2v1h-2zM125 252h3v1h-3zM130 254h2v1h-2zM283 312h2v1h-2zM85 238h2v1h-2zM78 234h2v1h-2zM277 308h2v1h-2zM44 222h2v1h-2zM164 278h2v1h-2zM74 232h2v1h-2zM268 305h3v1h-3zM65 229h3v1h-3zM384 360h2v1h-2zM962 360h2v1h-2zM40 220h2v1h-2zM189 293h2v1h-2zM36 218h2v1h-2zM388 362h2v1h-2zM966 362h2v1h-2zM193 295h2v1h-2zM195 296h4v1h-4zM354 346h2v1h-2zM692 346h2v1h-2zM174 285h2v1h-2zM93 242h2v1h-2zM98 244h2v1h-2zM105 247h2v1h-2zM25 212h2v1h-2zM279 309h1v1h-1zM166 279h1v1h-1zM167 280h1v1h-1zM696 344h1v1h-1zM316 329h1v1h-1zM688 349h1v1h-1zM915 342h1v1h-1zM176 286h1v1h-1zM143 261h1v1h-1zM678 355h1v1h-1zM670 360h1v1h-1zM149 266h1v1h-1zM160 275h1v1h-1zM163 277h1v1h-1zM662 365h1v1h-1zM144 262h1v1h-1zM173 284h1v1h-1zM290 316h1v1h-1zM139 258h1v1h-1zM140 259h1v1h-1zM151 268h1v1h-1zM155 271h1v1h-1zM282 311h1v1h-1zM691 347h1v1h-1zM150 267h1v1h-1zM146 264h1v1h-1zM683 352h1v1h-1zM33 216h1v1h-1zM675 357h1v1h-1zM667 362h1v1h-1zM922 346h1v1h-1zM145 263h1v1h-1zM156 272h1v1h-1zM157 273h1v1h-1zM170 282h1v1h-1zM80 235h1v1h-1zM287 314h1v1h-1zM152 269h1v1h-1z"/>
<path fill="#9c2e2e" shape-rendering="crispEdges" d="M137 383h2v1h-2zM95 377h2v1h-2zM729 232h2v1h-2zM802 232h2v1h-2zM942 411h2v1h-2zM101 380h5v1h-5zM113 380h4v1h-4zM130 380h4v1h-4zM188 452h9v1h-9zM185 451h3v1h-3zM319 451h2v1h-2zM944 412h2v1h-2zM5 348h4v1h-4zM22 348h2v1h-2zM973 434h2v1h-2zM369 481h2v1h-2zM952 417h2v1h-2zM737 233h5v1h-5zM758 233h2v1h-2zM242 399h11v1h-11zM261 399h2v1h-2zM587 399h2v1h-2zM291 426h2v1h-2zM337 463h8v1h-8zM938 409h2v1h-2zM949 415h2v1h-2zM9 347h13v1h-13zM772 224h3v1h-3zM785 224h3v1h-3zM947 414h2v1h-2zM42 363h5v1h-5zM57 363h11v1h-11zM725 229h2v1h-2zM764 229h2v1h-2zM797 229h2v1h-2zM106 381h7v1h-7zM134 381h2v1h-2zM940 410h2v1h-2zM456 527h4v1h-4zM464 527h4v1h-4zM99 379h2v1h-2zM117 379h2v1h-2zM124 379h6v1h-6zM265 401h2v1h-2zM584 401h2v1h-2zM415 507h4v1h-4zM498 507h2v1h-2zM275 404h2v1h-2zM580 404h2v1h-2zM600 391h9v1h-9zM396 495h2v1h-2zM591 396h2v1h-2zM47 364h10v1h-10zM68 364h7v1h-7zM777 222h4v1h-4zM748 237h2v1h-2zM809 237h2v1h-2zM263 400h2v1h-2zM799 230h2v1h-2zM596 393h2v1h-2zM28 351h2v1h-2zM238 402h2v1h-2zM267 402h4v1h-4zM408 505h4v1h-4zM501 505h2v1h-2zM87 372h2v1h-2zM721 227h2v1h-2zM794 227h2v1h-2zM376 484h4v1h-4zM732 234h5v1h-5zM742 234h2v1h-2zM756 234h2v1h-2zM805 234h2v1h-2zM442 522h2v1h-2zM477 522h2v1h-2zM353 467h3v1h-3zM723 228h2v1h-2zM325 456h2v1h-2zM882 327h2v1h-2zM977 437h2v1h-2zM93 376h2v1h-2zM768 226h2v1h-2zM792 226h2v1h-2zM460 528h4v1h-4zM327 457h2v1h-2zM296 430h2v1h-2zM412 506h3v1h-3zM983 440h3v1h-3zM961 423h2v1h-2zM609 390h2v1h-2zM775 223h2v1h-2zM781 223h4v1h-4zM177 447h2v1h-2zM992 447h2v1h-2zM371 482h3v1h-3zM958 421h2v1h-2zM505 503h2v1h-2zM24 349h2v1h-2zM390 490h2v1h-2zM419 508h5v1h-5zM496 508h2v1h-2zM438 519h2v1h-2zM446 524h3v1h-3zM473 524h2v1h-2zM746 236h2v1h-2zM750 236h4v1h-4zM490 511h2v1h-2zM97 378h2v1h-2zM119 378h5v1h-5zM81 368h2v1h-2zM429 512h2v1h-2zM349 466h4v1h-4zM761 231h2v1h-2zM83 369h2v1h-2zM380 485h4v1h-4zM75 365h2v1h-2zM271 403h4v1h-4zM424 509h3v1h-3zM494 509h2v1h-2zM253 398h4v1h-4zM259 398h2v1h-2zM345 464h2v1h-2zM955 419h2v1h-2zM79 367h2v1h-2zM744 235h2v1h-2zM754 235h2v1h-2zM492 510h2v1h-2zM335 462h2v1h-2zM452 526h4v1h-4zM468 526h3v1h-3zM594 394h2v1h-2zM770 225h2v1h-2zM788 225h4v1h-4zM479 521h2v1h-2zM598 392h2v1h-2zM181 449h2v1h-2zM26 350h2v1h-2zM386 487h2v1h-2zM449 525h3v1h-3zM471 525h2v1h-2zM374 483h2v1h-2zM435 517h2v1h-2zM179 448h2v1h-2zM994 448h2v1h-2zM619 384h2v1h-2zM183 450h2v1h-2zM300 433h2v1h-2zM444 523h2v1h-2zM475 523h2v1h-2zM980 439h3v1h-3zM507 502h2v1h-2zM813 240h2v1h-2zM333 461h2v1h-2zM613 388h2v1h-2zM91 375h2v1h-2zM330 459h2v1h-2zM615 387h2v1h-2zM257 397h2v1h-2zM611 389h2v1h-2zM77 366h2v1h-2zM347 465h2v1h-2zM384 486h2v1h-2zM406 504h2v1h-2zM503 504h2v1h-2zM38 360h2v1h-2zM872 316h1v1h-1zM487 514h1v1h-1zM854 298h1v1h-1zM332 460h1v1h-1zM363 475h1v1h-1zM574 411h1v1h-1zM664 314h1v2h-1zM577 407h1v1h-1zM295 429h1v1h-1zM640 356h1v1h-1zM533 467h1v2h-1zM975 435h1v1h-1zM905 358h1v2h-1zM986 441h1v1h-1zM825 257h1v2h-1zM545 451h1v1h-1zM691 267h1v2h-1zM655 332h1v2h-1zM828 263h1v1h-1zM937 408h1v1h-1zM437 518h1v1h-1zM700 254h1v1h-1zM557 434h1v1h-1zM703 249h1v2h-1zM898 346h1v1h-1zM818 245h1v2h-1zM569 417h1v1h-1zM715 233h1v1h-1zM946 413h1v1h-1zM760 232h1v1h-1zM162 426h1v1h-1zM821 250h1v2h-1zM165 430h1v2h-1zM227 415h1v1h-1zM624 380h1v1h-1zM517 492h1v1h-1zM902 352h1v2h-1zM663 316h1v2h-1zM155 414h1v2h-1zM636 363h1v1h-1zM529 474h1v2h-1zM166 432h1v2h-1zM707 243h1v1h-1zM687 273h1v2h-1zM853 297h1v1h-1zM35 357h1v1h-1zM846 284h1v2h-1zM886 330h1v1h-1zM514 495h1v1h-1zM151 405h1v2h-1zM306 438h1v1h-1zM659 324h1v2h-1zM235 405h1v1h-1zM887 331h1v1h-1zM930 400h1v1h-1zM694 263h1v1h-1zM718 230h1v1h-1zM674 294h1v2h-1zM402 500h1v1h-1zM433 515h1v1h-1zM963 424h1v1h-1zM843 279h1v1h-1zM901 351h1v1h-1zM509 501h1v1h-1zM403 501h1v1h-1zM904 356h1v2h-1zM824 256h1v1h-1zM324 455h1v1h-1zM861 305h1v1h-1zM894 339h1v2h-1zM667 308h1v2h-1zM964 425h1v1h-1zM897 344h1v2h-1zM835 270h1v2h-1zM817 243h1v2h-1zM211 434h1v1h-1zM525 481h1v1h-1zM658 326h1v2h-1zM161 424h1v2h-1zM169 437h1v2h-1zM287 420h1v2h-1zM647 345h1v1h-1zM627 376h1v1h-1zM154 412h1v2h-1zM849 290h1v2h-1zM173 442h1v2h-1zM540 456h1v2h-1zM206 440h1v1h-1zM564 423h1v2h-1zM710 239h1v1h-1zM971 432h1v1h-1zM532 469h1v2h-1zM842 278h1v1h-1zM305 437h1v1h-1zM622 382h1v1h-1zM845 282h1v2h-1zM654 334h1v2h-1zM553 440h1v1h-1zM699 255h1v2h-1zM827 261h1v2h-1zM643 351h1v2h-1zM875 320h1v1h-1zM203 443h1v1h-1zM223 420h1v2h-1zM485 516h1v1h-1zM536 462h1v2h-1zM560 429h1v2h-1zM860 304h1v1h-1zM900 349h1v2h-1zM528 476h1v2h-1zM572 413h1v1h-1zM820 249h1v1h-1zM482 519h1v1h-1zM312 444h1v1h-1zM230 411h1v1h-1zM650 340h1v2h-1zM290 425h1v1h-1zM630 372h1v2h-1zM392 491h1v1h-1zM34 356h1v1h-1zM834 269h1v1h-1zM218 427h1v1h-1zM970 431h1v1h-1zM313 445h1v1h-1zM168 435h1v2h-1zM428 511h1v1h-1zM357 469h1v1h-1zM678 286h1v2h-1zM867 311h1v1h-1zM153 409h1v3h-1zM989 444h1v1h-1zM690 269h1v1h-1zM358 470h1v1h-1zM172 441h1v1h-1zM868 312h1v1h-1zM801 231h1v1h-1zM823 254h1v2h-1zM556 435h1v2h-1zM364 476h1v1h-1zM662 318h1v2h-1zM826 259h1v2h-1zM933 404h1v1h-1zM544 452h1v1h-1zM819 247h1v2h-1zM365 477h1v1h-1zM646 346h1v2h-1zM816 242h1v1h-1zM988 443h1v1h-1zM30 352h1v1h-1zM516 493h1v1h-1zM563 425h1v1h-1zM706 244h1v2h-1zM673 296h1v2h-1zM653 336h1v1h-1zM552 441h1v2h-1zM511 499h1v1h-1zM547 449h1v1h-1zM693 264h1v2h-1zM666 310h1v2h-1zM848 288h1v2h-1zM150 402h1v3h-1zM40 361h1v1h-1zM398 496h1v1h-1zM524 482h1v2h-1zM657 328h1v2h-1zM717 231h1v1h-1zM226 416h1v2h-1zM229 412h1v2h-1zM626 377h1v2h-1zM629 374h1v1h-1zM41 362h1v1h-1zM812 239h1v1h-1zM697 258h1v2h-1zM677 288h1v2h-1zM519 489h1v2h-1zM712 237h1v1h-1zM763 230h1v1h-1zM139 384h1v1h-1zM221 423h1v1h-1zM224 419h1v1h-1zM489 512h1v1h-1zM966 427h1v1h-1zM539 458h1v1h-1zM171 440h1v1h-1zM579 405h1v1h-1zM837 273h1v1h-1zM681 282h1v1h-1zM237 403h1v1h-1zM202 444h1v2h-1zM583 402h1v1h-1zM661 320h1v2h-1zM811 238h1v1h-1zM241 400h1v1h-1zM728 231h1v1h-1zM844 280h1v2h-1zM951 416h1v1h-1zM847 286h1v2h-1zM232 409h1v1h-1zM855 299h1v1h-1zM632 370h1v1h-1zM197 451h1v1h-1zM932 402h1v2h-1zM976 436h1v1h-1zM307 439h1v1h-1zM213 432h1v1h-1zM856 300h1v1h-1zM888 332h1v1h-1zM559 431h1v1h-1zM672 298h1v2h-1zM829 264h1v1h-1zM308 440h1v1h-1zM571 414h1v1h-1zM889 333h1v1h-1zM822 252h1v2h-1zM649 342h1v1h-1zM404 502h1v1h-1zM830 265h1v1h-1zM542 454h1v1h-1zM862 306h1v1h-1zM617 386h1v1h-1zM405 503h1v1h-1zM314 446h1v1h-1zM709 240h1v1h-1zM689 270h1v2h-1zM863 307h1v1h-1zM668 306h1v2h-1zM394 493h1v1h-1zM36 358h1v1h-1zM621 383h1v1h-1zM89 373h1v1h-1zM315 447h1v1h-1zM807 235h1v1h-1zM727 230h1v1h-1zM205 441h1v1h-1zM917 380h1v2h-1zM329 458h1v1h-1zM645 348h1v2h-1zM925 393h1v2h-1zM152 407h1v2h-1zM684 277h1v2h-1zM550 444h1v2h-1zM696 260h1v1h-1zM484 517h1v1h-1zM360 472h1v1h-1zM931 401h1v1h-1zM562 426h1v2h-1zM921 387h1v1h-1zM870 314h1v1h-1zM434 516h1v1h-1zM527 478h1v1h-1zM220 424h1v2h-1zM876 321h1v1h-1zM149 400h1v2h-1zM522 485h1v1h-1zM535 464h1v1h-1zM965 426h1v1h-1zM680 283h1v2h-1zM877 322h1v1h-1zM277 405h1v2h-1zM278 407h1v1h-1zM393 492h1v1h-1zM719 229h1v1h-1zM208 437h1v1h-1zM174 444h1v1h-1zM156 416h1v2h-1zM531 471h1v1h-1zM920 385h1v2h-1zM972 433h1v1h-1zM991 446h1v1h-1zM676 290h1v2h-1zM656 330h1v2h-1zM913 373h1v2h-1zM558 432h1v2h-1zM916 378h1v2h-1zM924 392h1v1h-1zM200 447h1v1h-1zM359 471h1v1h-1zM869 313h1v1h-1zM936 407h1v1h-1zM538 459h1v2h-1zM518 491h1v1h-1zM708 241h1v2h-1zM565 422h1v1h-1zM891 336h1v1h-1zM652 337h1v2h-1zM589 398h1v1h-1zM513 496h1v2h-1zM285 417h1v2h-1zM546 450h1v1h-1zM549 446h1v1h-1zM215 430h1v1h-1zM692 266h1v1h-1zM639 357h1v2h-1zM957 420h1v1h-1zM990 445h1v1h-1zM671 300h1v2h-1zM960 422h1v1h-1zM573 412h1v1h-1zM923 390h1v2h-1zM228 414h1v1h-1zM628 375h1v1h-1zM912 371h1v2h-1zM521 486h1v2h-1zM303 435h1v1h-1zM884 328h1v1h-1zM388 488h1v1h-1zM711 238h1v1h-1zM148 398h1v2h-1zM934 405h1v1h-1zM635 364h1v2h-1zM857 301h1v1h-1zM366 478h1v1h-1zM890 334h1v2h-1zM623 381h1v1h-1zM906 360h1v2h-1zM389 489h1v1h-1zM909 366h1v1h-1zM144 391h1v2h-1zM593 395h1v1h-1zM858 302h1v1h-1zM31 353h1v1h-1zM683 279h1v1h-1zM686 275h1v1h-1zM310 442h1v1h-1zM695 261h1v2h-1zM675 292h1v2h-1zM486 515h1v1h-1zM32 354h1v1h-1zM832 267h1v1h-1zM510 500h1v1h-1zM199 448h1v2h-1zM302 434h1v1h-1zM808 236h1v1h-1zM159 421h1v2h-1zM838 274h1v1h-1zM926 395h1v2h-1zM231 410h1v1h-1zM534 465h1v2h-1zM440 520h1v1h-1zM919 383h1v2h-1zM839 275h1v1h-1zM212 433h1v1h-1zM927 397h1v1h-1zM399 497h1v1h-1zM850 292h1v2h-1zM908 364h1v2h-1zM561 428h1v1h-1zM321 452h1v1h-1zM541 455h1v1h-1zM207 438h1v2h-1zM147 396h1v2h-1zM210 435h1v1h-1zM568 418h1v1h-1zM679 285h1v1h-1zM767 227h1v1h-1zM140 385h1v1h-1zM878 323h1v1h-1zM670 302h1v2h-1zM967 428h1v1h-1zM298 431h1v1h-1zM831 266h1v1h-1zM879 324h1v1h-1zM280 409h1v2h-1zM864 308h1v1h-1zM576 408h1v1h-1zM158 420h1v1h-1zM642 353h1v1h-1zM395 494h1v1h-1zM37 359h1v1h-1zM922 388h1v2h-1zM234 406h1v1h-1zM631 371h1v1h-1zM634 366h1v2h-1zM915 376h1v2h-1zM219 426h1v1h-1zM222 422h1v1h-1zM702 251h1v1h-1zM918 382h1v1h-1zM907 362h1v2h-1zM714 234h1v1h-1zM481 520h1v1h-1zM911 369h1v2h-1zM682 280h1v2h-1zM871 315h1v1h-1zM309 441h1v1h-1zM548 447h1v2h-1zM143 389h1v2h-1zM638 359h1v2h-1zM665 312h1v2h-1zM157 418h1v2h-1zM283 414h1v2h-1zM90 374h1v1h-1zM316 448h1v1h-1zM279 408h1v1h-1zM175 445h1v1h-1zM698 257h1v1h-1zM520 488h1v1h-1zM361 473h1v1h-1zM176 446h1v1h-1zM914 375h1v1h-1zM293 427h1v1h-1zM136 382h1v1h-1zM500 506h1v1h-1zM294 428h1v1h-1zM512 498h1v1h-1zM705 246h1v1h-1zM996 449h1v1h-1zM217 428h1v1h-1zM146 394h1v2h-1zM892 337h1v1h-1zM214 431h1v1h-1zM575 409h1v2h-1zM641 354h1v2h-1zM282 412h1v2h-1zM893 338h1v1h-1zM198 450h1v1h-1zM555 437h1v1h-1zM701 252h1v2h-1zM160 423h1v1h-1zM567 419h1v2h-1zM523 484h1v1h-1zM713 235h1v2h-1zM286 419h1v1h-1zM570 415h1v2h-1zM225 418h1v1h-1zM625 379h1v1h-1zM648 343h1v2h-1zM928 398h1v1h-1zM637 361h1v2h-1zM669 304h1v2h-1zM852 296h1v1h-1zM910 367h1v2h-1zM431 513h1v1h-1zM515 494h1v1h-1zM841 277h1v1h-1zM618 385h1v1h-1zM929 399h1v1h-1zM85 370h1v1h-1zM432 514h1v1h-1zM885 329h1v1h-1zM488 513h1v1h-1zM935 406h1v1h-1zM895 341h1v2h-1zM804 233h1v1h-1zM86 371h1v1h-1zM874 319h1v1h-1zM903 354h1v2h-1zM578 406h1v1h-1zM367 479h1v1h-1zM323 454h1v1h-1zM142 387h1v2h-1zM233 407h1v2h-1zM236 404h1v1h-1zM633 368h1v2h-1zM660 322h1v2h-1zM896 343h1v1h-1zM859 303h1v1h-1zM368 480h1v1h-1zM582 403h1v1h-1zM899 347h1v2h-1zM551 443h1v1h-1zM716 232h1v1h-1zM281 411h1v1h-1zM289 424h1v1h-1zM851 294h1v2h-1zM33 355h1v1h-1zM833 268h1v1h-1zM164 429h1v1h-1zM543 453h1v1h-1zM866 310h1v1h-1zM304 436h1v1h-1zM840 276h1v1h-1zM400 498h1v1h-1zM766 228h1v1h-1zM873 317h1v2h-1zM530 472h1v2h-1zM401 499h1v1h-1zM145 393h1v1h-1zM322 453h1v1h-1zM685 276h1v1h-1zM554 438h1v2h-1zM311 443h1v1h-1zM240 401h1v1h-1zM954 418h1v1h-1zM586 400h1v1h-1zM201 446h1v1h-1zM796 228h1v1h-1zM815 241h1v1h-1zM288 422h1v2h-1zM644 350h1v1h-1zM968 429h1v1h-1zM987 442h1v1h-1zM427 510h1v1h-1zM526 479h1v2h-1zM163 427h1v2h-1zM356 468h1v1h-1zM590 397h1v1h-1zM483 518h1v1h-1zM704 247h1v2h-1zM969 430h1v1h-1zM441 521h1v1h-1zM881 326h1v1h-1zM720 228h1v1h-1zM209 436h1v1h-1zM688 272h1v1h-1zM141 386h1v1h-1zM204 442h1v1h-1zM299 432h1v1h-1zM979 438h1v1h-1zM731 233h1v1h-1zM880 325h1v1h-1zM284 416h1v1h-1zM865 309h1v1h-1zM566 421h1v1h-1zM167 434h1v1h-1zM317 449h1v1h-1zM170 439h1v1h-1zM836 272h1v1h-1zM537 461h1v1h-1zM318 450h1v1h-1zM651 339h1v1h-1zM362 474h1v1h-1zM216 429h1v1h-1z"/>
<g shape-rendering="crispEdges">
<path fill="#000" d="M4 285h1v65h-1zM4 297h2v33h-2zM8 306h1v41h-1zM7 326h3v3h-3zM12 285h1v51h-1zM11 309h3v12h-3zM16 277h1v79h-1zM15 306h3v41h-3zM20 325h1v62h-1zM19 325h3v60h-3zM24 350h1v62h-1zM23 355h3v21h-3zM28 340h1v72h-1zM27 353h3v57h-3zM32 395h1v52h-1zM31 401h3v24h-3zM36 378h1v111h-1zM35 421h3v66h-3zM40 457h1v51h-1zM39 458h3v20h-3zM44 387h1v72h-1zM43 388h3v71h-3zM48 365h1v34h-1zM47 367h3v23h-3zM52 359h1v52h-1zM51 371h3v16h-3zM56 325h1v65h-1zM55 337h3v49h-3zM60 319h1v49h-1zM59 348h3v5h-3zM64 340h1v49h-1zM63 348h3v12h-3zM68 350h1v44h-1zM67 364h3v2h-3zM72 341h1v37h-1zM71 365h3v11h-3zM76 371h1v72h-1zM75 374h3v42h-3zM80 387h1v34h-1zM79 395h3v23h-3zM84 389h1v40h-1zM83 397h3v27h-3zM88 415h1v62h-1zM87 424h3v53h-3zM92 428h1v46h-1zM91 435h3v39h-3zM96 412h1v58h-1zM95 415h3v16h-3zM100 408h1v42h-1zM99 413h3v21h-3zM104 385h1v53h-1zM103 408h3v28h-3zM108 383h1v31h-1zM107 387h3v26h-3zM112 367h1v32h-1zM111 383h3v9h-3zM116 337h1v93h-1zM115 338h3v43h-3zM120 320h1v53h-1zM119 324h3v26h-3zM124 313h1v89h-1zM123 323h3v77h-3zM128 385h1v38h-1zM127 394h3v22h-3zM132 378h1v61h-1zM131 410h3v26h-3zM136 401h1v53h-1zM135 411h3v25h-3zM140 397h1v113h-1zM139 401h3v56h-3zM144 451h1v93h-1zM143 458h3v71h-3zM148 503h1v158h-1zM147 522h3v81h-3zM152 576h1v83h-1zM151 601h3v2h-3zM156 569h1v101h-1zM155 600h3v45h-3zM160 613h1v81h-1zM159 615h3v12h-3zM164 570h1v66h-1zM163 576h3v44h-3zM168 534h1v56h-1zM167 567h3v10h-3zM172 526h1v58h-1zM171 562h3v14h-3zM176 555h1v82h-1zM175 574h3v8h-3zM180 493h1v91h-1zM179 499h3v73h-3zM184 474h1v39h-1zM183 483h3v14h-3zM188 464h1v37h-1zM187 477h3v24h-3zM192 458h1v46h-1zM191 464h3v33h-3zM196 432h1v46h-1zM195 433h3v30h-3zM200 314h1v46h-1zM199 325h3v3h-3zM204 295h1v50h-1zM203 313h3v13h-3zM208 307h1v35h-1zM207 314h3v15h-3zM212 314h1v30h-1zM211 324h3v2h-3zM216 311h1v34h-1zM215 317h3v22h-3zM220 300h1v50h-1zM219 304h3v35h-3zM224 258h1v51h-1zM223 265h3v40h-3zM228 261h1v30h-1zM227 268h3v17h-3zM232 267h1v32h-1zM231 277h3v12h-3zM236 276h1v50h-1zM235 279h3v37h-3zM240 301h1v38h-1zM239 316h3v1h-3zM244 308h1v62h-1zM243 314h3v46h-3zM248 360h1v47h-1zM247 362h3v42h-3zM252 374h1v39h-1zM251 385h3v18h-3zM256 356h1v56h-1zM255 368h3v22h-3zM260 358h1v59h-1zM259 368h3v36h-3zM264 385h1v89h-1zM263 397h3v70h-3zM268 446h1v28h-1zM267 457h3v8h-3zM272 408h1v69h-1zM271 413h3v44h-3zM276 423h1v40h-1zM275 426h3v10h-3zM280 427h1v107h-1zM279 438h3v94h-3zM284 525h1v88h-1zM283 530h3v80h-3zM288 570h1v53h-1zM287 599h3v22h-3zM292 525h1v76h-1zM291 535h3v60h-3zM296 482h1v61h-1zM295 503h3v33h-3zM300 480h1v56h-1zM299 486h3v13h-3zM304 477h1v48h-1zM303 486h3v17h-3zM308 485h1v66h-1zM307 501h3v33h-3zM312 525h1v42h-1zM311 536h3v27h-3zM316 526h1v54h-1zM315 536h3v27h-3zM320 524h1v31h-1zM319 534h3v20h-3zM324 489h1v75h-1zM323 503h3v48h-3zM328 497h1v33h-1zM327 503h3v17h-3zM332 483h1v55h-1zM331 517h3v6h-3zM336 507h1v43h-1zM335 517h3v8h-3zM340 478h1v49h-1zM339 480h3v32h-3zM344 457h1v37h-1zM343 469h3v9h-3zM348 466h1v76h-1zM347 467h3v57h-3zM352 494h1v36h-1zM351 499h3v23h-3zM356 483h1v35h-1zM355 490h3v8h-3zM360 487h1v100h-1zM359 497h3v79h-3zM364 571h1v61h-1zM363 572h3v47h-3zM368 538h1v82h-1zM367 561h3v53h-3zM372 515h1v49h-1zM371 520h3v42h-3zM376 476h1v48h-1zM375 489h3v32h-3zM380 510h1v49h-1zM379 518h3v14h-3zM384 490h1v50h-1zM383 509h3v14h-3zM388 490h1v95h-1zM387 509h3v33h-3zM392 521h1v38h-1zM391 542h3v13h-3zM396 562h1v73h-1zM395 563h3v60h-3zM400 566h1v61h-1zM399 579h3v41h-3zM404 550h1v55h-1zM403 580h3v12h-3zM408 538h1v70h-1zM407 549h3v47h-3zM412 518h1v42h-1zM411 528h3v18h-3zM416 513h1v34h-1zM415 532h3v3h-3zM420 512h1v59h-1zM419 530h3v16h-3zM424 503h1v44h-1zM423 513h3v33h-3zM428 504h1v85h-1zM427 510h3v66h-3zM432 573h1v52h-1zM431 575h3v1h-3zM436 562h1v31h-1zM435 572h3v3h-3zM440 560h1v61h-1zM439 575h3v35h-3zM444 569h1v62h-1zM443 583h3v27h-3zM448 550h1v38h-1zM447 569h3v12h-3zM452 539h1v35h-1zM451 554h3v14h-3zM456 521h1v50h-1zM455 551h3v11h-3zM460 532h1v34h-1zM459 534h3v26h-3zM464 515h1v40h-1zM463 523h3v18h-3zM468 511h1v48h-1zM467 523h3v1h-3zM472 476h1v61h-1zM471 483h3v41h-3zM476 471h1v34h-1zM475 480h3v13h-3zM480 454h1v44h-1zM479 459h3v34h-3zM484 428h1v33h-1zM483 437h3v23h-3zM488 400h1v46h-1zM487 404h3v32h-3zM492 402h1v48h-1zM491 406h3v40h-3zM496 427h1v52h-1zM495 451h3v23h-3zM500 430h1v48h-1zM499 435h3v37h-3zM504 408h1v42h-1zM503 434h3v9h-3zM508 424h1v39h-1zM507 435h3v9h-3zM512 399h1v37h-1zM511 410h3v25h-3zM516 354h1v66h-1zM515 363h3v45h-3zM520 341h1v37h-1zM519 354h3v10h-3zM524 345h1v27h-1zM523 355h3v10h-3zM528 326h1v40h-1zM527 345h3v21h-3zM532 323h1v39h-1zM531 324h3v23h-3zM536 296h1v42h-1zM535 301h3v26h-3zM540 290h1v41h-1zM539 292h3v9h-3zM544 286h1v77h-1zM543 294h3v54h-3zM548 299h1v72h-1zM547 305h3v45h-3zM552 270h1v38h-1zM551 284h3v21h-3zM556 269h1v39h-1zM555 277h3v10h-3zM560 274h1v71h-1zM559 280h3v7h-3zM564 242h1v45h-1zM563 252h3v30h-3zM568 237h1v50h-1zM567 252h3v30h-3zM572 261h1v34h-1zM571 278h3v3h-3zM576 276h1v32h-1zM575 292h3v1h-3zM580 282h1v55h-1zM579 290h3v33h-3zM584 313h1v53h-1zM583 320h3v42h-3zM588 322h1v47h-1zM587 346h3v17h-3zM592 314h1v45h-1zM591 320h3v25h-3zM596 297h1v41h-1zM595 322h3v11h-3zM600 328h1v21h-1zM599 332h3v14h-3zM604 339h1v53h-1zM603 345h3v27h-3zM608 354h1v38h-1zM607 364h3v5h-3zM612 330h1v51h-1zM611 337h3v28h-3zM616 320h1v28h-1zM615 337h3v5h-3zM620 308h1v47h-1zM619 311h3v30h-3zM624 295h1v25h-1zM623 304h3v8h-3zM628 259h1v50h-1zM627 262h3v43h-3zM632 208h1v60h-1zM631 209h3v56h-3zM636 205h1v21h-1zM635 209h3v3h-3zM640 163h1v69h-1zM639 193h3v20h-3zM644 163h1v49h-1zM643 175h3v19h-3zM648 171h1v31h-1zM647 174h3v20h-3zM652 167h1v40h-1zM651 183h3v11h-3zM656 162h1v32h-1zM655 181h3v3h-3zM660 136h1v51h-1zM659 149h3v33h-3zM664 130h1v30h-1zM663 147h3v3h-3zM668 102h1v50h-1zM667 104h3v46h-3zM672 94h1v45h-1zM671 98h3v9h-3zM676 77h1v34h-1zM675 87h3v15h-3zM680 55h1v48h-1zM679 88h3v8h-3zM684 87h1v48h-1zM683 95h3v35h-3zM688 91h1v59h-1zM687 124h3v4h-3zM692 86h1v45h-1zM691 109h3v14h-3zM696 99h1v40h-1zM695 110h3v11h-3zM700 103h1v57h-1zM699 107h3v14h-3zM704 32h1v80h-1zM703 42h3v68h-3zM708 16h1v80h-1zM707 43h3v44h-3zM712 59h1v60h-1zM711 88h3v24h-3zM716 87h1v76h-1zM715 107h3v52h-3zM720 126h1v53h-1zM719 143h3v15h-3zM724 141h1v123h-1zM723 146h3v111h-3zM728 249h1v60h-1zM727 260h3v41h-3zM732 286h1v36h-1zM731 297h3v8h-3zM736 198h1v61h-1zM735 221h3v31h-3zM740 213h1v37h-1zM739 221h3v12h-3zM744 221h1v71h-1zM743 234h3v54h-3zM748 245h1v58h-1zM747 280h3v11h-3zM752 184h1v101h-1zM751 187h3v96h-3zM756 175h1v46h-1zM755 191h3v16h-3zM760 189h1v47h-1zM759 190h3v17h-3zM764 141h1v54h-1zM763 174h3v17h-3zM768 121h1v93h-1zM767 130h3v45h-3zM772 116h1v52h-1zM771 134h3v15h-3zM776 153h1v65h-1zM775 157h3v45h-3zM780 198h1v76h-1zM779 201h3v56h-3zM784 213h1v81h-1zM783 220h3v36h-3zM788 214h1v68h-1zM787 221h3v42h-3zM792 209h1v63h-1zM791 225h3v38h-3zM796 225h1v77h-1zM795 229h3v56h-3zM800 265h1v60h-1zM799 284h3v28h-3zM804 262h1v74h-1zM803 307h3v14h-3zM808 276h1v59h-1zM807 285h3v37h-3zM812 259h1v79h-1zM811 283h3v39h-3zM816 290h1v35h-1zM815 319h3v5h-3zM820 316h1v89h-1zM819 318h3v87h-3zM824 394h1v59h-1zM823 404h3v35h-3zM828 402h1v45h-1zM827 437h3v1h-3zM832 388h1v55h-1zM831 397h3v41h-3zM836 369h1v55h-1zM835 372h3v29h-3zM840 343h1v44h-1zM839 370h3v10h-3zM844 366h1v52h-1zM843 381h3v33h-3zM848 409h1v102h-1zM847 413h3v82h-3zM852 423h1v76h-1zM851 426h3v66h-3zM856 371h1v65h-1zM855 391h3v44h-3zM860 383h1v24h-1zM859 386h3v5h-3zM864 382h1v96h-1zM863 387h3v23h-3zM868 408h1v35h-1zM867 409h3v11h-3zM872 401h1v37h-1zM871 421h3v17h-3zM876 422h1v48h-1zM875 440h3v9h-3zM880 403h1v54h-1zM879 414h3v34h-3zM884 379h1v54h-1zM883 388h3v27h-3zM888 345h1v104h-1zM887 388h3v48h-3zM892 406h1v68h-1zM891 435h3v28h-3zM896 447h1v55h-1zM895 461h3v26h-3zM900 467h1v49h-1zM899 485h3v31h-3zM904 501h1v80h-1zM903 513h3v66h-3zM908 550h1v38h-1zM907 569h3v7h-3zM912 524h1v49h-1zM911 533h3v32h-3zM916 519h1v33h-1zM915 529h3v5h-3zM920 515h1v85h-1zM919 527h3v63h-3zM924 562h1v50h-1zM923 562h3v25h-3zM928 502h1v68h-1zM927 520h3v42h-3zM932 506h1v44h-1zM931 517h3v4h-3zM936 458h1v84h-1zM935 499h3v14h-3zM940 463h1v52h-1zM939 469h3v30h-3zM944 441h1v41h-1zM943 470h3v7h-3zM948 459h1v48h-1zM947 475h3v3h-3zM952 451h1v36h-1zM951 474h3v12h-3zM956 422h1v70h-1zM955 441h3v37h-3zM960 434h1v43h-1zM959 441h3v35h-3zM964 462h1v62h-1zM963 477h3v40h-3zM968 503h1v32h-1zM967 514h3v17h-3zM972 478h1v82h-1zM971 518h3v33h-3zM976 489h1v90h-1zM975 494h3v55h-3zM980 471h1v66h-1zM979 493h3v16h-3zM984 467h1v45h-1zM983 474h3v35h-3zM988 474h1v87h-1zM987 478h3v64h-3zM992 497h1v55h-1zM991 513h3v27h-3zM996 483h1v43h-1zM995 512h3v3h-3z"/>
<path fill="#fff" d="M8 327h1v1h-1zM12 310h1v10h-1zM24 356h1v19h-1zM40 459h1v18h-1zM44 389h1v69h-1zM48 368h1v21h-1zM56 338h1v47h-1zM80 396h1v21h-1zM92 436h1v37h-1zM96 416h1v14h-1zM104 409h1v26h-1zM108 388h1v24h-1zM112 384h1v7h-1zM116 339h1v41h-1zM120 325h1v24h-1zM136 412h1v23h-1zM160 616h1v10h-1zM164 577h1v42h-1zM168 568h1v8h-1zM180 500h1v71h-1zM184 484h1v12h-1zM192 465h1v31h-1zM196 434h1v28h-1zM204 314h1v11h-1zM220 305h1v33h-1zM224 266h1v38h-1zM232 278h1v10h-1zM252 386h1v16h-1zM256 369h1v20h-1zM268 458h1v6h-1zM272 414h1v42h-1zM288 600h1v20h-1zM292 536h1v58h-1zM296 504h1v31h-1zM300 487h1v11h-1zM316 537h1v25h-1zM324 504h1v46h-1zM336 518h1v6h-1zM340 481h1v30h-1zM344 470h1v7h-1zM352 500h1v21h-1zM368 562h1v51h-1zM372 521h1v40h-1zM384 510h1v12h-1zM400 580h1v39h-1zM408 550h1v45h-1zM412 529h1v16h-1zM424 514h1v31h-1zM444 584h1v25h-1zM448 570h1v10h-1zM452 555h1v12h-1zM460 535h1v24h-1zM464 524h1v16h-1zM472 484h1v39h-1zM480 460h1v32h-1zM484 438h1v21h-1zM488 405h1v30h-1zM500 436h1v35h-1zM508 436h1v7h-1zM512 411h1v23h-1zM516 364h1v43h-1zM520 355h1v8h-1zM528 346h1v19h-1zM532 325h1v21h-1zM536 302h1v24h-1zM540 293h1v7h-1zM548 306h1v43h-1zM552 285h1v19h-1zM560 281h1v5h-1zM564 253h1v28h-1zM572 279h1v1h-1zM588 347h1v15h-1zM592 321h1v23h-1zM608 365h1v3h-1zM612 338h1v26h-1zM620 312h1v28h-1zM624 305h1v6h-1zM628 263h1v41h-1zM632 210h1v54h-1zM636 210h1v1h-1zM640 194h1v18h-1zM644 176h1v17h-1zM652 184h1v9h-1zM656 182h1v1h-1zM660 150h1v31h-1zM664 148h1v1h-1zM668 105h1v44h-1zM672 99h1v7h-1zM676 88h1v13h-1zM688 125h1v2h-1zM692 110h1v12h-1zM700 108h1v12h-1zM704 43h1v66h-1zM720 144h1v13h-1zM732 298h1v6h-1zM736 222h1v29h-1zM748 281h1v9h-1zM752 188h1v94h-1zM760 191h1v15h-1zM764 175h1v15h-1zM768 131h1v43h-1zM784 221h1v34h-1zM792 226h1v36h-1zM808 286h1v35h-1zM816 320h1v3h-1zM832 398h1v39h-1zM836 373h1v27h-1zM852 427h1v64h-1zM856 392h1v42h-1zM860 387h1v3h-1zM880 415h1v32h-1zM884 389h1v25h-1zM908 570h1v5h-1zM912 534h1v30h-1zM916 530h1v3h-1zM924 563h1v23h-1zM928 521h1v40h-1zM932 518h1v2h-1zM936 500h1v12h-1zM940 470h1v28h-1zM948 476h1v1h-1zM956 442h1v35h-1zM976 495h1v53h-1zM984 475h1v33h-1zM992 514h1v25h-1zM996 513h1v1h-1z"/>
</g>
<g shape-rendering="crispEdges" fill="#000">
<rect x="4" y="4" width="1234" height="1"/>
<rect x="4" y="699" width="1234" height="1"/>
<rect x="4" y="4" width="1" height="696"/>
<rect x="1237" y="4" width="1" height="696"/>
<rect x="1238" y="26" width="4" height="1"/>
<rect x="1238" y="58" width="4" height="1"/>
<rect x="1238" y="90" width="4" height="1"/>
<rect x="1238" y="122" width="4" height="1"/>
<rect x="1238" y="155" width="4" height="1"/>
<rect x="1238" y="187" width="4" height="1"/>
<rect x="1238" y="219" width="4" height="1"/>
<rect x="1238" y="251" width="4" height="1"/>
<rect x="1238" y="283" width="4" height="1"/>
<rect x="1238" y="315" width="4" height="1"/>
<rect x="1238" y="347" width="4" height="1"/>
<rect x="1238" y="379" width="4" height="1"/>
<rect x="1238" y="411" width="4" height="1"/>
<rect x="1238" y="443" width="4" height="1"/>
<rect x="1238" y="475" width="4" height="1"/>
<rect x="1238" y="507" width="4" height="1"/>
<rect x="1238" y="539" width="4" height="1"/>
<rect x="1238" y="571" width="4" height="1"/>
<rect x="1238" y="603" width="4" height="1"/>
<rect x="1238" y="635" width="4" height="1"/>
<rect x="1238" y="667" width="4" height="1"/>
<rect x="4" y="700" width="1" height="4"/>
<rect x="68" y="700" width="1" height="4"/>
<rect x="132" y="700" width="1" height="4"/>
<rect x="196" y="700" width="1" height="4"/>
<rect x="260" y="700" width="1" height="4"/>
<rect x="324" y="700" width="1" height="4"/>
<rect x="388" y="700" width="1" height="4"/>
<rect x="452" y="700" width="1" height="4"/>
<rect x="516" y="700" width="1" height="4"/>
<rect x="580" y="700" width="1" height="4"/>
<rect x="644" y="700" width="1" height="4"/>
<rect x="708" y="700" width="1" height="4"/>
<rect x="772" y="700" width="1" height="4"/>
<rect x="836" y="700" width="1" height="4"/>
<rect x="900" y="700" width="1" height="4"/>
<rect x="964" y="700" width="1" height="4"/>
</g>
<path d="M992 5h9.5l-4.75 5z" fill="#b4b4b4"/>
<g class="t" font-size="9.8px" fill="#000">
<text x="1242.7" y="30" textLength="27.4" lengthAdjust="spacingAndGlyphs">93.510</text>
<text x="1242.7" y="62" textLength="27.4" lengthAdjust="spacingAndGlyphs">92.110</text>
<text x="1242.7" y="94" textLength="27.4" lengthAdjust="spacingAndGlyphs">90.710</text>
<text x="1242.7" y="126" textLength="27.4" lengthAdjust="spacingAndGlyphs">89.310</text>
<text x="1242.7" y="159" textLength="27.4" lengthAdjust="spacingAndGlyphs">87.910</text>
<text x="1242.7" y="191" textLength="27.4" lengthAdjust="spacingAndGlyphs">86.510</text>
<text x="1242.7" y="223" textLength="27.4" lengthAdjust="spacingAndGlyphs">85.110</text>
<text x="1242.7" y="255" textLength="27.4" lengthAdjust="spacingAndGlyphs">83.710</text>
<text x="1242.7" y="287" textLength="27.4" lengthAdjust="spacingAndGlyphs">82.310</text>
<text x="1242.7" y="319" textLength="27.4" lengthAdjust="spacingAndGlyphs">80.910</text>
<text x="1242.7" y="351" textLength="27.4" lengthAdjust="spacingAndGlyphs">79.510</text>
<text x="1242.7" y="383" textLength="27.4" lengthAdjust="spacingAndGlyphs">78.110</text>
<text x="1242.7" y="415" textLength="27.4" lengthAdjust="spacingAndGlyphs">76.710</text>
<text x="1242.7" y="447" textLength="27.4" lengthAdjust="spacingAndGlyphs">75.310</text>
<text x="1242.7" y="479" textLength="27.4" lengthAdjust="spacingAndGlyphs">73.910</text>
<text x="1242.7" y="511" textLength="27.4" lengthAdjust="spacingAndGlyphs">72.510</text>
<text x="1242.7" y="543" textLength="27.4" lengthAdjust="spacingAndGlyphs">71.110</text>
<text x="1242.7" y="575" textLength="27.4" lengthAdjust="spacingAndGlyphs">69.710</text>
<text x="1242.7" y="607" textLength="27.4" lengthAdjust="spacingAndGlyphs">68.310</text>
<text x="1242.7" y="639" textLength="27.4" lengthAdjust="spacingAndGlyphs">66.910</text>
<text x="1242.7" y="671" textLength="27.4" lengthAdjust="spacingAndGlyphs">65.510</text>
</g>
<rect x="1240" y="445" width="34" height="11" fill="#e30d0d" shape-rendering="crispEdges"/>
<text x="1242.7" y="454" class="tw" font-size="9.8px" fill="#fff" textLength="27.4" lengthAdjust="spacingAndGlyphs">75.000</text>
<rect x="1240" y="605" width="34" height="11" fill="#e30d0d" shape-rendering="crispEdges"/>
<text x="1242.7" y="614" class="tw" font-size="9.8px" fill="#fff" textLength="27.4" lengthAdjust="spacingAndGlyphs">68.000</text>
<rect x="1240" y="674" width="34" height="11" fill="#e30d0d" shape-rendering="crispEdges"/>
<text x="1242.7" y="683" class="tw" font-size="9.8px" fill="#fff" textLength="27.4" lengthAdjust="spacingAndGlyphs">65.000</text>
<rect x="1240" y="507" width="34" height="11" fill="#000" shape-rendering="crispEdges"/>
<text x="1242.7" y="516" class="tw" font-size="9.8px" fill="#fff" textLength="27.4" lengthAdjust="spacingAndGlyphs">72.304</text>
<g class="t" font-size="9.8px" fill="#000">
<text x="4" y="712" textLength="49" lengthAdjust="spacingAndGlyphs">24 Jan 2023</text>
<text x="68" y="712" textLength="50.5" lengthAdjust="spacingAndGlyphs">15 Feb 2023</text>
<text x="132" y="712" textLength="45.5" lengthAdjust="spacingAndGlyphs">9 Mar 2023</text>
<text x="196" y="712" textLength="51.5" lengthAdjust="spacingAndGlyphs">31 Mar 2023</text>
<text x="260" y="712" textLength="50" lengthAdjust="spacingAndGlyphs">25 Apr 2023</text>
<text x="324" y="712" textLength="53.5" lengthAdjust="spacingAndGlyphs">17 May 2023</text>
<text x="388" y="712" textLength="44" lengthAdjust="spacingAndGlyphs">8 Jun 2023</text>
<text x="452" y="712" textLength="49" lengthAdjust="spacingAndGlyphs">30 Jun 2023</text>
<text x="516" y="712" textLength="46.5" lengthAdjust="spacingAndGlyphs">24 Jul 2023</text>
<text x="580" y="712" textLength="51.7" lengthAdjust="spacingAndGlyphs">15 Aug 2023</text>
<text x="644" y="712" textLength="46" lengthAdjust="spacingAndGlyphs">6 Sep 2023</text>
<text x="708" y="712" textLength="50.7" lengthAdjust="spacingAndGlyphs">28 Sep 2023</text>
<text x="772" y="712" textLength="50.7" lengthAdjust="spacingAndGlyphs">20 Oct 2023</text>
<text x="836" y="712" textLength="52.8" lengthAdjust="spacingAndGlyphs">13 Nov 2023</text>
<text x="900" y="712" textLength="46" lengthAdjust="spacingAndGlyphs">5 Dec 2023</text>
<text x="964" y="712" textLength="51" lengthAdjust="spacingAndGlyphs">28 Dec 2023</text>
</g>
<text x="50.6" y="19" class="t2" font-size="9.8px" fill="#000" textLength="61.4" lengthAdjust="spacingAndGlyphs">USWTI, Daily:</text>
<text x="118.9" y="19" class="t2" font-size="9.8px" fill="#000" textLength="80.3" lengthAdjust="spacingAndGlyphs">Spot WTI Crude Oil</text>
<g stroke-linejoin="round">
<rect x="9.500" y="10.500" width="14" height="10" rx="1.500" fill="#fff" stroke="#b9695f" stroke-width="1"/>
<path d="M16.500 10.500h5.500a1.500 1.500 0 0 1 1.500 1.500v7a1.500 1.500 0 0 1 -1.500 1.500h-5.500" fill="#d9eefc" stroke="#2a6a96" stroke-width="1"/>
<path d="M11.300 12.500h4.200M11.300 15.500h4.200M11.300 18.500h4.200" stroke="#bd5346" stroke-width="1"/>
<path d="M17.300 12.500h4.500M17.300 15.500h4.500M17.300 18.500h4.500" stroke="#1b5b8a" stroke-width="1"/>
<path d="M31 10.500H33.500V15H36.500V20.500H31Z" fill="#fbd9d0" stroke="#bf6257" stroke-width="1"/>
<path d="M44.500 10.500H41.500V15H38.500V20.500H44.500Z" fill="#cfe8fa" stroke="#2f75a8" stroke-width="1"/>
<rect x="36" y="10.700" width="3" height="1.800" rx="0.900" fill="#fff" stroke="#a0a0a0" stroke-width="0.800"/>
</g>
<defs>
<linearGradient id="gp" gradientUnits="userSpaceOnUse" x1="0" y1="26" x2="0" y2="83"><stop offset="0" stop-color="#f24c4c"/><stop offset="0.400" stop-color="#dd3333"/><stop offset="1" stop-color="#b90e0e"/></linearGradient>
</defs>
<g>
<rect x="6" y="25" width="191" height="61" fill="#fff"/>
<path d="M8.500 26.500H51.500V48.500H100.500V82.500H8.500Z" fill="url(#gp)" stroke="#b51515" stroke-width="1"/>
<path d="M151.500 26.500H194.500V82.500H103.500V48.500H151.500Z" fill="url(#gp)" stroke="#b51515" stroke-width="1"/>
<rect x="12" y="47" width="36" height="1" fill="#b01616"/>
<rect x="12" y="48" width="36" height="1" fill="#ee6a6a"/>
<rect x="155" y="47" width="36" height="1" fill="#b01616"/>
<rect x="155" y="48" width="36" height="1" fill="#ee6a6a"/>
<rect x="54.500" y="26.500" width="94" height="19" fill="#fff" stroke="#a6a6a6" stroke-width="1"/>
<rect x="55" y="27" width="18" height="18" fill="#e8e8e8"/>
<rect x="130" y="27" width="18" height="18" fill="#e8e8e8"/>
<rect x="73" y="27" width="1" height="18" fill="#a6a6a6"/>
<rect x="129" y="27" width="1" height="18" fill="#a6a6a6"/>
<path d="M60.800 34h5.600l-2.800 3.300z" fill="#000"/>
<path d="M135.900 37.300h5.600l-2.800 -3.300z" fill="#000"/>
<text x="104" y="40" font-size="12px" fill="#222" textLength="19.600" lengthAdjust="spacingAndGlyphs">0.01</text>
<text x="17" y="40.700" font-size="11.200px" fill="#fff" textLength="23" lengthAdjust="spacingAndGlyphs">SELL</text>
<text x="161.600" y="40.700" font-size="11.200px" fill="#fff" textLength="20.200" lengthAdjust="spacingAndGlyphs">BUY</text>
<text x="31.300" y="77.200" font-size="12.300px" font-weight="bold" fill="#fff" textLength="13.400" lengthAdjust="spacingAndGlyphs">72</text>
<text x="125.100" y="77.200" font-size="12.300px" font-weight="bold" fill="#fff" textLength="13.600" lengthAdjust="spacingAndGlyphs">72</text>
<text x="48.300" y="77.500" font-size="31.500px" fill="#fff" textLength="33.800" lengthAdjust="spacingAndGlyphs">30</text>
<text x="143.400" y="77.500" font-size="31.500px" fill="#fff" textLength="33.300" lengthAdjust="spacingAndGlyphs">32</text>
<text x="84.500" y="63.600" font-size="11.500px" font-weight="bold" fill="#fff" textLength="7.500" lengthAdjust="spacingAndGlyphs">4</text>
<text x="179.700" y="63.600" font-size="11.500px" font-weight="bold" fill="#fff" textLength="7.500" lengthAdjust="spacingAndGlyphs">4</text>
</g>
</svg>
</body></html>
